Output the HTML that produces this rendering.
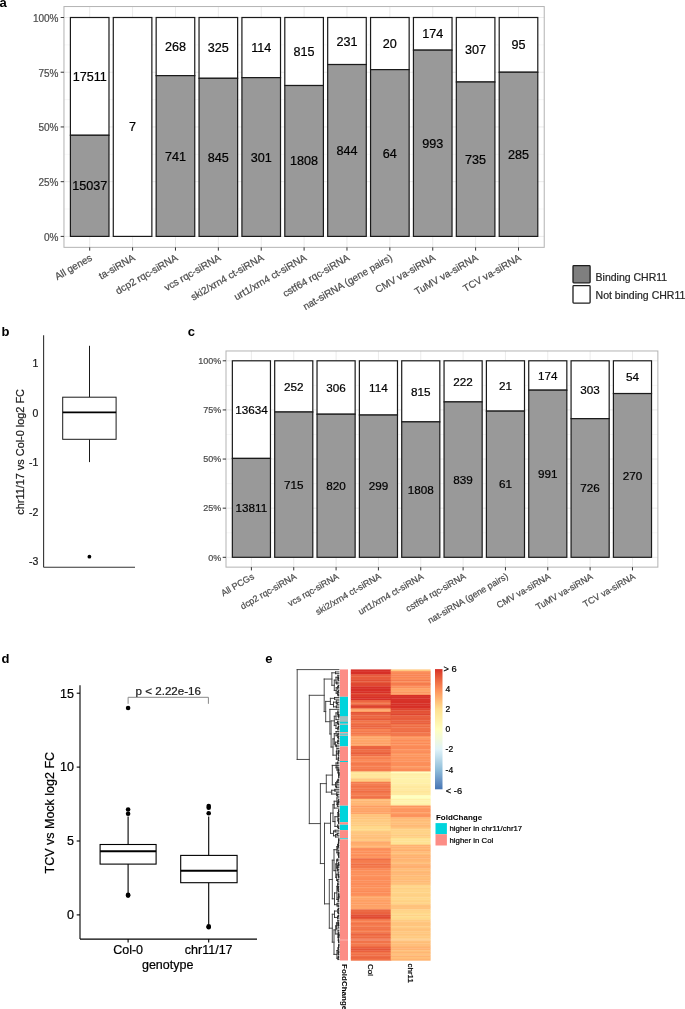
<!DOCTYPE html><html><head><meta charset="utf-8"><style>html,body{margin:0;padding:0;background:#fff;}svg{display:block;will-change:transform}text{font-family:"Liberation Sans", sans-serif;}</style></head><body>
<svg width="685" height="1009" viewBox="0 0 685 1009">
<rect x="0" y="0" width="685" height="1009" fill="#fff"/>
<line x1="63.97" x2="544.23" y1="209.04" y2="209.04" stroke="#f2f2f2" stroke-width="0.6"/>
<line x1="63.97" x2="544.23" y1="154.31" y2="154.31" stroke="#f2f2f2" stroke-width="0.6"/>
<line x1="63.97" x2="544.23" y1="99.59" y2="99.59" stroke="#f2f2f2" stroke-width="0.6"/>
<line x1="63.97" x2="544.23" y1="44.86" y2="44.86" stroke="#f2f2f2" stroke-width="0.6"/>
<line x1="63.97" x2="544.23" y1="236.4" y2="236.4" stroke="#ebebeb" stroke-width="1"/>
<line x1="63.97" x2="544.23" y1="181.68" y2="181.68" stroke="#ebebeb" stroke-width="1"/>
<line x1="63.97" x2="544.23" y1="126.95" y2="126.95" stroke="#ebebeb" stroke-width="1"/>
<line x1="63.97" x2="544.23" y1="72.22" y2="72.22" stroke="#ebebeb" stroke-width="1"/>
<line x1="63.97" x2="544.23" y1="17.5" y2="17.5" stroke="#ebebeb" stroke-width="1"/>
<line x1="89.7" x2="89.7" y1="6.55" y2="247.34" stroke="#ebebeb" stroke-width="1"/>
<line x1="132.58" x2="132.58" y1="6.55" y2="247.34" stroke="#ebebeb" stroke-width="1"/>
<line x1="175.46" x2="175.46" y1="6.55" y2="247.34" stroke="#ebebeb" stroke-width="1"/>
<line x1="218.34" x2="218.34" y1="6.55" y2="247.34" stroke="#ebebeb" stroke-width="1"/>
<line x1="261.22" x2="261.22" y1="6.55" y2="247.34" stroke="#ebebeb" stroke-width="1"/>
<line x1="304.1" x2="304.1" y1="6.55" y2="247.34" stroke="#ebebeb" stroke-width="1"/>
<line x1="346.98" x2="346.98" y1="6.55" y2="247.34" stroke="#ebebeb" stroke-width="1"/>
<line x1="389.86" x2="389.86" y1="6.55" y2="247.34" stroke="#ebebeb" stroke-width="1"/>
<line x1="432.74" x2="432.74" y1="6.55" y2="247.34" stroke="#ebebeb" stroke-width="1"/>
<line x1="475.62" x2="475.62" y1="6.55" y2="247.34" stroke="#ebebeb" stroke-width="1"/>
<line x1="518.5" x2="518.5" y1="6.55" y2="247.34" stroke="#ebebeb" stroke-width="1"/>
<rect x="70.4" y="17.5" width="38.59" height="117.77" fill="#fff" stroke="#1a1a1a" stroke-width="1.2"/>
<rect x="70.4" y="135.27" width="38.59" height="101.13" fill="#999999" stroke="#1a1a1a" stroke-width="1.2"/>
<text x="89.7" y="190.35" font-size="12.6" text-anchor="middle" fill="#000" stroke="#000" stroke-width="0.22">15037</text>
<text x="89.7" y="80.9" font-size="12.6" text-anchor="middle" fill="#000" stroke="#000" stroke-width="0.22">17511</text>
<rect x="113.28" y="17.5" width="38.59" height="218.9" fill="#fff" stroke="#1a1a1a" stroke-width="1.2"/>
<text x="132.58" y="131.46" font-size="12.6" text-anchor="middle" fill="#000" stroke="#000" stroke-width="0.22">7</text>
<rect x="156.16" y="17.5" width="38.59" height="58.14" fill="#fff" stroke="#1a1a1a" stroke-width="1.2"/>
<rect x="156.16" y="75.64" width="38.59" height="160.76" fill="#999999" stroke="#1a1a1a" stroke-width="1.2"/>
<text x="175.46" y="160.53" font-size="12.6" text-anchor="middle" fill="#000" stroke="#000" stroke-width="0.22">741</text>
<text x="175.46" y="51.08" font-size="12.6" text-anchor="middle" fill="#000" stroke="#000" stroke-width="0.22">268</text>
<rect x="199.04" y="17.5" width="38.59" height="60.81" fill="#fff" stroke="#1a1a1a" stroke-width="1.2"/>
<rect x="199.04" y="78.31" width="38.59" height="158.09" fill="#999999" stroke="#1a1a1a" stroke-width="1.2"/>
<text x="218.34" y="161.86" font-size="12.6" text-anchor="middle" fill="#000" stroke="#000" stroke-width="0.22">845</text>
<text x="218.34" y="52.41" font-size="12.6" text-anchor="middle" fill="#000" stroke="#000" stroke-width="0.22">325</text>
<rect x="241.92" y="17.5" width="38.59" height="60.13" fill="#fff" stroke="#1a1a1a" stroke-width="1.2"/>
<rect x="241.92" y="77.63" width="38.59" height="158.77" fill="#999999" stroke="#1a1a1a" stroke-width="1.2"/>
<text x="261.22" y="161.53" font-size="12.6" text-anchor="middle" fill="#000" stroke="#000" stroke-width="0.22">301</text>
<text x="261.22" y="52.08" font-size="12.6" text-anchor="middle" fill="#000" stroke="#000" stroke-width="0.22">114</text>
<rect x="284.8" y="17.5" width="38.59" height="68.02" fill="#fff" stroke="#1a1a1a" stroke-width="1.2"/>
<rect x="284.8" y="85.52" width="38.59" height="150.88" fill="#999999" stroke="#1a1a1a" stroke-width="1.2"/>
<text x="304.1" y="165.47" font-size="12.6" text-anchor="middle" fill="#000" stroke="#000" stroke-width="0.22">1808</text>
<text x="304.1" y="56.02" font-size="12.6" text-anchor="middle" fill="#000" stroke="#000" stroke-width="0.22">815</text>
<rect x="327.68" y="17.5" width="38.59" height="47.04" fill="#fff" stroke="#1a1a1a" stroke-width="1.2"/>
<rect x="327.68" y="64.54" width="38.59" height="171.86" fill="#999999" stroke="#1a1a1a" stroke-width="1.2"/>
<text x="346.98" y="154.98" font-size="12.6" text-anchor="middle" fill="#000" stroke="#000" stroke-width="0.22">844</text>
<text x="346.98" y="45.53" font-size="12.6" text-anchor="middle" fill="#000" stroke="#000" stroke-width="0.22">231</text>
<rect x="370.56" y="17.5" width="38.59" height="52.12" fill="#fff" stroke="#1a1a1a" stroke-width="1.2"/>
<rect x="370.56" y="69.62" width="38.59" height="166.78" fill="#999999" stroke="#1a1a1a" stroke-width="1.2"/>
<text x="389.86" y="157.52" font-size="12.6" text-anchor="middle" fill="#000" stroke="#000" stroke-width="0.22">64</text>
<text x="389.86" y="48.07" font-size="12.6" text-anchor="middle" fill="#000" stroke="#000" stroke-width="0.22">20</text>
<rect x="413.44" y="17.5" width="38.59" height="32.64" fill="#fff" stroke="#1a1a1a" stroke-width="1.2"/>
<rect x="413.44" y="50.14" width="38.59" height="186.26" fill="#999999" stroke="#1a1a1a" stroke-width="1.2"/>
<text x="432.74" y="147.78" font-size="12.6" text-anchor="middle" fill="#000" stroke="#000" stroke-width="0.22">993</text>
<text x="432.74" y="38.33" font-size="12.6" text-anchor="middle" fill="#000" stroke="#000" stroke-width="0.22">174</text>
<rect x="456.32" y="17.5" width="38.59" height="64.49" fill="#fff" stroke="#1a1a1a" stroke-width="1.2"/>
<rect x="456.32" y="81.99" width="38.59" height="154.41" fill="#999999" stroke="#1a1a1a" stroke-width="1.2"/>
<text x="475.62" y="163.71" font-size="12.6" text-anchor="middle" fill="#000" stroke="#000" stroke-width="0.22">735</text>
<text x="475.62" y="54.26" font-size="12.6" text-anchor="middle" fill="#000" stroke="#000" stroke-width="0.22">307</text>
<rect x="499.2" y="17.5" width="38.59" height="54.72" fill="#fff" stroke="#1a1a1a" stroke-width="1.2"/>
<rect x="499.2" y="72.22" width="38.59" height="164.18" fill="#999999" stroke="#1a1a1a" stroke-width="1.2"/>
<text x="518.5" y="158.82" font-size="12.6" text-anchor="middle" fill="#000" stroke="#000" stroke-width="0.22">285</text>
<text x="518.5" y="49.37" font-size="12.6" text-anchor="middle" fill="#000" stroke="#000" stroke-width="0.22">95</text>
<rect x="63.97" y="6.55" width="480.26" height="240.79" fill="none" stroke="#b3b3b3" stroke-width="1"/>
<line x1="60.67" x2="63.97" y1="236.4" y2="236.4" stroke="#333" stroke-width="1"/>
<text x="58.47" y="240.68" font-size="10" text-anchor="end" fill="#4d4d4d" stroke="#4d4d4d" stroke-width="0.22">0%</text>
<line x1="60.67" x2="63.97" y1="181.68" y2="181.68" stroke="#333" stroke-width="1"/>
<text x="58.47" y="185.96" font-size="10" text-anchor="end" fill="#4d4d4d" stroke="#4d4d4d" stroke-width="0.22">25%</text>
<line x1="60.67" x2="63.97" y1="126.95" y2="126.95" stroke="#333" stroke-width="1"/>
<text x="58.47" y="131.23" font-size="10" text-anchor="end" fill="#4d4d4d" stroke="#4d4d4d" stroke-width="0.22">50%</text>
<line x1="60.67" x2="63.97" y1="72.22" y2="72.22" stroke="#333" stroke-width="1"/>
<text x="58.47" y="76.5" font-size="10" text-anchor="end" fill="#4d4d4d" stroke="#4d4d4d" stroke-width="0.22">75%</text>
<line x1="60.67" x2="63.97" y1="17.5" y2="17.5" stroke="#333" stroke-width="1"/>
<text x="58.47" y="21.78" font-size="10" text-anchor="end" fill="#4d4d4d" stroke="#4d4d4d" stroke-width="0.22">100%</text>
<line x1="89.7" x2="89.7" y1="247.34" y2="250.65" stroke="#333" stroke-width="1"/>
<text transform="translate(92.9,259.64) rotate(-30)" font-size="10" text-anchor="end" fill="#4d4d4d" stroke="#4d4d4d" stroke-width="0.22">All genes</text>
<line x1="132.58" x2="132.58" y1="247.34" y2="250.65" stroke="#333" stroke-width="1"/>
<text transform="translate(135.78,259.64) rotate(-30)" font-size="10" text-anchor="end" fill="#4d4d4d" stroke="#4d4d4d" stroke-width="0.22">ta-siRNA</text>
<line x1="175.46" x2="175.46" y1="247.34" y2="250.65" stroke="#333" stroke-width="1"/>
<text transform="translate(178.66,259.64) rotate(-30)" font-size="10" text-anchor="end" fill="#4d4d4d" stroke="#4d4d4d" stroke-width="0.22">dcp2 rqc-siRNA</text>
<line x1="218.34" x2="218.34" y1="247.34" y2="250.65" stroke="#333" stroke-width="1"/>
<text transform="translate(221.54,259.64) rotate(-30)" font-size="10" text-anchor="end" fill="#4d4d4d" stroke="#4d4d4d" stroke-width="0.22">vcs rqc-siRNA</text>
<line x1="261.22" x2="261.22" y1="247.34" y2="250.65" stroke="#333" stroke-width="1"/>
<text transform="translate(264.42,259.64) rotate(-30)" font-size="10" text-anchor="end" fill="#4d4d4d" stroke="#4d4d4d" stroke-width="0.22">ski2/xrn4 ct-siRNA</text>
<line x1="304.1" x2="304.1" y1="247.34" y2="250.65" stroke="#333" stroke-width="1"/>
<text transform="translate(307.3,259.64) rotate(-30)" font-size="10" text-anchor="end" fill="#4d4d4d" stroke="#4d4d4d" stroke-width="0.22">urt1/xrn4 ct-siRNA</text>
<line x1="346.98" x2="346.98" y1="247.34" y2="250.65" stroke="#333" stroke-width="1"/>
<text transform="translate(350.18,259.64) rotate(-30)" font-size="10" text-anchor="end" fill="#4d4d4d" stroke="#4d4d4d" stroke-width="0.22">cstf64 rqc-siRNA</text>
<line x1="389.86" x2="389.86" y1="247.34" y2="250.65" stroke="#333" stroke-width="1"/>
<text transform="translate(393.06,259.64) rotate(-30)" font-size="10" text-anchor="end" fill="#4d4d4d" stroke="#4d4d4d" stroke-width="0.22">nat-siRNA (gene pairs)</text>
<line x1="432.74" x2="432.74" y1="247.34" y2="250.65" stroke="#333" stroke-width="1"/>
<text transform="translate(435.94,259.64) rotate(-30)" font-size="10" text-anchor="end" fill="#4d4d4d" stroke="#4d4d4d" stroke-width="0.22">CMV va-siRNA</text>
<line x1="475.62" x2="475.62" y1="247.34" y2="250.65" stroke="#333" stroke-width="1"/>
<text transform="translate(478.82,259.64) rotate(-30)" font-size="10" text-anchor="end" fill="#4d4d4d" stroke="#4d4d4d" stroke-width="0.22">TuMV va-siRNA</text>
<line x1="518.5" x2="518.5" y1="247.34" y2="250.65" stroke="#333" stroke-width="1"/>
<text transform="translate(521.7,259.64) rotate(-30)" font-size="10" text-anchor="end" fill="#4d4d4d" stroke="#4d4d4d" stroke-width="0.22">TCV va-siRNA</text>
<line x1="226" x2="657.86" y1="532.74" y2="532.74" stroke="#f2f2f2" stroke-width="0.6"/>
<line x1="226" x2="657.86" y1="483.61" y2="483.61" stroke="#f2f2f2" stroke-width="0.6"/>
<line x1="226" x2="657.86" y1="434.49" y2="434.49" stroke="#f2f2f2" stroke-width="0.6"/>
<line x1="226" x2="657.86" y1="385.36" y2="385.36" stroke="#f2f2f2" stroke-width="0.6"/>
<line x1="226" x2="657.86" y1="557.3" y2="557.3" stroke="#ebebeb" stroke-width="1"/>
<line x1="226" x2="657.86" y1="508.17" y2="508.17" stroke="#ebebeb" stroke-width="1"/>
<line x1="226" x2="657.86" y1="459.05" y2="459.05" stroke="#ebebeb" stroke-width="1"/>
<line x1="226" x2="657.86" y1="409.93" y2="409.93" stroke="#ebebeb" stroke-width="1"/>
<line x1="226" x2="657.86" y1="360.8" y2="360.8" stroke="#ebebeb" stroke-width="1"/>
<line x1="251.4" x2="251.4" y1="350.98" y2="567.12" stroke="#ebebeb" stroke-width="1"/>
<line x1="293.74" x2="293.74" y1="350.98" y2="567.12" stroke="#ebebeb" stroke-width="1"/>
<line x1="336.08" x2="336.08" y1="350.98" y2="567.12" stroke="#ebebeb" stroke-width="1"/>
<line x1="378.42" x2="378.42" y1="350.98" y2="567.12" stroke="#ebebeb" stroke-width="1"/>
<line x1="420.76" x2="420.76" y1="350.98" y2="567.12" stroke="#ebebeb" stroke-width="1"/>
<line x1="463.1" x2="463.1" y1="350.98" y2="567.12" stroke="#ebebeb" stroke-width="1"/>
<line x1="505.44" x2="505.44" y1="350.98" y2="567.12" stroke="#ebebeb" stroke-width="1"/>
<line x1="547.78" x2="547.78" y1="350.98" y2="567.12" stroke="#ebebeb" stroke-width="1"/>
<line x1="590.12" x2="590.12" y1="350.98" y2="567.12" stroke="#ebebeb" stroke-width="1"/>
<line x1="632.46" x2="632.46" y1="350.98" y2="567.12" stroke="#ebebeb" stroke-width="1"/>
<rect x="232.35" y="360.8" width="38.11" height="97.62" fill="#fff" stroke="#1a1a1a" stroke-width="1.2"/>
<rect x="232.35" y="458.42" width="38.11" height="98.88" fill="#999999" stroke="#1a1a1a" stroke-width="1.2"/>
<text x="251.4" y="512.05" font-size="11.7" text-anchor="middle" fill="#000" stroke="#000" stroke-width="0.22">13811</text>
<text x="251.4" y="413.8" font-size="11.7" text-anchor="middle" fill="#000" stroke="#000" stroke-width="0.22">13634</text>
<rect x="274.69" y="360.8" width="38.11" height="51.21" fill="#fff" stroke="#1a1a1a" stroke-width="1.2"/>
<rect x="274.69" y="412.01" width="38.11" height="145.29" fill="#999999" stroke="#1a1a1a" stroke-width="1.2"/>
<text x="293.74" y="488.84" font-size="11.7" text-anchor="middle" fill="#000" stroke="#000" stroke-width="0.22">715</text>
<text x="293.74" y="390.59" font-size="11.7" text-anchor="middle" fill="#000" stroke="#000" stroke-width="0.22">252</text>
<rect x="317.03" y="360.8" width="38.11" height="53.4" fill="#fff" stroke="#1a1a1a" stroke-width="1.2"/>
<rect x="317.03" y="414.2" width="38.11" height="143.1" fill="#999999" stroke="#1a1a1a" stroke-width="1.2"/>
<text x="336.08" y="489.94" font-size="11.7" text-anchor="middle" fill="#000" stroke="#000" stroke-width="0.22">820</text>
<text x="336.08" y="391.69" font-size="11.7" text-anchor="middle" fill="#000" stroke="#000" stroke-width="0.22">306</text>
<rect x="359.37" y="360.8" width="38.11" height="54.24" fill="#fff" stroke="#1a1a1a" stroke-width="1.2"/>
<rect x="359.37" y="415.04" width="38.11" height="142.26" fill="#999999" stroke="#1a1a1a" stroke-width="1.2"/>
<text x="378.42" y="490.36" font-size="11.7" text-anchor="middle" fill="#000" stroke="#000" stroke-width="0.22">299</text>
<text x="378.42" y="392.11" font-size="11.7" text-anchor="middle" fill="#000" stroke="#000" stroke-width="0.22">114</text>
<rect x="401.71" y="360.8" width="38.11" height="61.06" fill="#fff" stroke="#1a1a1a" stroke-width="1.2"/>
<rect x="401.71" y="421.86" width="38.11" height="135.44" fill="#999999" stroke="#1a1a1a" stroke-width="1.2"/>
<text x="420.76" y="493.77" font-size="11.7" text-anchor="middle" fill="#000" stroke="#000" stroke-width="0.22">1808</text>
<text x="420.76" y="395.52" font-size="11.7" text-anchor="middle" fill="#000" stroke="#000" stroke-width="0.22">815</text>
<rect x="444.05" y="360.8" width="38.11" height="41.11" fill="#fff" stroke="#1a1a1a" stroke-width="1.2"/>
<rect x="444.05" y="401.91" width="38.11" height="155.39" fill="#999999" stroke="#1a1a1a" stroke-width="1.2"/>
<text x="463.1" y="483.8" font-size="11.7" text-anchor="middle" fill="#000" stroke="#000" stroke-width="0.22">839</text>
<text x="463.1" y="385.55" font-size="11.7" text-anchor="middle" fill="#000" stroke="#000" stroke-width="0.22">222</text>
<rect x="486.39" y="360.8" width="38.11" height="50.32" fill="#fff" stroke="#1a1a1a" stroke-width="1.2"/>
<rect x="486.39" y="411.12" width="38.11" height="146.18" fill="#999999" stroke="#1a1a1a" stroke-width="1.2"/>
<text x="505.44" y="488.4" font-size="11.7" text-anchor="middle" fill="#000" stroke="#000" stroke-width="0.22">61</text>
<text x="505.44" y="390.15" font-size="11.7" text-anchor="middle" fill="#000" stroke="#000" stroke-width="0.22">21</text>
<rect x="528.73" y="360.8" width="38.11" height="29.35" fill="#fff" stroke="#1a1a1a" stroke-width="1.2"/>
<rect x="528.73" y="390.15" width="38.11" height="167.15" fill="#999999" stroke="#1a1a1a" stroke-width="1.2"/>
<text x="547.78" y="477.91" font-size="11.7" text-anchor="middle" fill="#000" stroke="#000" stroke-width="0.22">991</text>
<text x="547.78" y="379.66" font-size="11.7" text-anchor="middle" fill="#000" stroke="#000" stroke-width="0.22">174</text>
<rect x="571.07" y="360.8" width="38.11" height="57.86" fill="#fff" stroke="#1a1a1a" stroke-width="1.2"/>
<rect x="571.07" y="418.66" width="38.11" height="138.64" fill="#999999" stroke="#1a1a1a" stroke-width="1.2"/>
<text x="590.12" y="492.17" font-size="11.7" text-anchor="middle" fill="#000" stroke="#000" stroke-width="0.22">726</text>
<text x="590.12" y="393.92" font-size="11.7" text-anchor="middle" fill="#000" stroke="#000" stroke-width="0.22">303</text>
<rect x="613.41" y="360.8" width="38.11" height="32.75" fill="#fff" stroke="#1a1a1a" stroke-width="1.2"/>
<rect x="613.41" y="393.55" width="38.11" height="163.75" fill="#999999" stroke="#1a1a1a" stroke-width="1.2"/>
<text x="632.46" y="479.61" font-size="11.7" text-anchor="middle" fill="#000" stroke="#000" stroke-width="0.22">270</text>
<text x="632.46" y="381.36" font-size="11.7" text-anchor="middle" fill="#000" stroke="#000" stroke-width="0.22">54</text>
<rect x="226" y="350.98" width="431.87" height="216.15" fill="none" stroke="#b3b3b3" stroke-width="1"/>
<line x1="222.7" x2="226" y1="557.3" y2="557.3" stroke="#333" stroke-width="1"/>
<text x="221.2" y="560.52" font-size="9" text-anchor="end" fill="#4d4d4d" stroke="#4d4d4d" stroke-width="0.22">0%</text>
<line x1="222.7" x2="226" y1="508.17" y2="508.17" stroke="#333" stroke-width="1"/>
<text x="221.2" y="511.4" font-size="9" text-anchor="end" fill="#4d4d4d" stroke="#4d4d4d" stroke-width="0.22">25%</text>
<line x1="222.7" x2="226" y1="459.05" y2="459.05" stroke="#333" stroke-width="1"/>
<text x="221.2" y="462.27" font-size="9" text-anchor="end" fill="#4d4d4d" stroke="#4d4d4d" stroke-width="0.22">50%</text>
<line x1="222.7" x2="226" y1="409.93" y2="409.93" stroke="#333" stroke-width="1"/>
<text x="221.2" y="413.15" font-size="9" text-anchor="end" fill="#4d4d4d" stroke="#4d4d4d" stroke-width="0.22">75%</text>
<line x1="222.7" x2="226" y1="360.8" y2="360.8" stroke="#333" stroke-width="1"/>
<text x="221.2" y="364.02" font-size="9" text-anchor="end" fill="#4d4d4d" stroke="#4d4d4d" stroke-width="0.22">100%</text>
<line x1="251.4" x2="251.4" y1="567.12" y2="570.42" stroke="#333" stroke-width="1"/>
<text transform="translate(254.8,578.12) rotate(-30)" font-size="9" text-anchor="end" fill="#4d4d4d" stroke="#4d4d4d" stroke-width="0.22">All PCGs</text>
<line x1="293.74" x2="293.74" y1="567.12" y2="570.42" stroke="#333" stroke-width="1"/>
<text transform="translate(297.14,578.12) rotate(-30)" font-size="9" text-anchor="end" fill="#4d4d4d" stroke="#4d4d4d" stroke-width="0.22">dcp2 rqc-siRNA</text>
<line x1="336.08" x2="336.08" y1="567.12" y2="570.42" stroke="#333" stroke-width="1"/>
<text transform="translate(339.48,578.12) rotate(-30)" font-size="9" text-anchor="end" fill="#4d4d4d" stroke="#4d4d4d" stroke-width="0.22">vcs rqc-siRNA</text>
<line x1="378.42" x2="378.42" y1="567.12" y2="570.42" stroke="#333" stroke-width="1"/>
<text transform="translate(381.82,578.12) rotate(-30)" font-size="9" text-anchor="end" fill="#4d4d4d" stroke="#4d4d4d" stroke-width="0.22">ski2/xrn4 ct-siRNA</text>
<line x1="420.76" x2="420.76" y1="567.12" y2="570.42" stroke="#333" stroke-width="1"/>
<text transform="translate(424.16,578.12) rotate(-30)" font-size="9" text-anchor="end" fill="#4d4d4d" stroke="#4d4d4d" stroke-width="0.22">urt1/xrn4 ct-siRNA</text>
<line x1="463.1" x2="463.1" y1="567.12" y2="570.42" stroke="#333" stroke-width="1"/>
<text transform="translate(466.5,578.12) rotate(-30)" font-size="9" text-anchor="end" fill="#4d4d4d" stroke="#4d4d4d" stroke-width="0.22">cstf64 rqc-siRNA</text>
<line x1="505.44" x2="505.44" y1="567.12" y2="570.42" stroke="#333" stroke-width="1"/>
<text transform="translate(508.84,578.12) rotate(-30)" font-size="9" text-anchor="end" fill="#4d4d4d" stroke="#4d4d4d" stroke-width="0.22">nat-siRNA (gene pairs)</text>
<line x1="547.78" x2="547.78" y1="567.12" y2="570.42" stroke="#333" stroke-width="1"/>
<text transform="translate(551.18,578.12) rotate(-30)" font-size="9" text-anchor="end" fill="#4d4d4d" stroke="#4d4d4d" stroke-width="0.22">CMV va-siRNA</text>
<line x1="590.12" x2="590.12" y1="567.12" y2="570.42" stroke="#333" stroke-width="1"/>
<text transform="translate(593.52,578.12) rotate(-30)" font-size="9" text-anchor="end" fill="#4d4d4d" stroke="#4d4d4d" stroke-width="0.22">TuMV va-siRNA</text>
<line x1="632.46" x2="632.46" y1="567.12" y2="570.42" stroke="#333" stroke-width="1"/>
<text transform="translate(635.86,578.12) rotate(-30)" font-size="9" text-anchor="end" fill="#4d4d4d" stroke="#4d4d4d" stroke-width="0.22">TCV va-siRNA</text>
<rect x="573" y="265.6" width="17.1" height="17.2" rx="0.8" fill="#7f7f7f" stroke="#1e1e1e" stroke-width="1.3"/>
<rect x="573" y="285.7" width="17.1" height="17.4" rx="0.8" fill="#fff" stroke="#1e1e1e" stroke-width="1.3"/>
<text x="595.6" y="280.7" font-size="10.5" fill="#262626" stroke="#262626" stroke-width="0.22">Binding CHR11</text>
<text x="595.6" y="299" font-size="10.5" fill="#262626" stroke="#262626" stroke-width="0.22">Not binding CHR11</text>
<text x="-0.6" y="6.8" font-size="13" font-weight="bold" fill="#000">a</text>
<text x="1.6" y="336" font-size="13" font-weight="bold" fill="#000">b</text>
<text x="187.7" y="336.2" font-size="13" font-weight="bold" fill="#000">c</text>
<text x="1.6" y="662.8" font-size="13" font-weight="bold" fill="#000">d</text>
<text x="265.3" y="662.8" font-size="13" font-weight="bold" fill="#000">e</text>
<line x1="43.6" x2="43.6" y1="335.3" y2="567.3" stroke="#333" stroke-width="1.1"/>
<line x1="43.6" x2="135" y1="567.3" y2="567.3" stroke="#333" stroke-width="1.1"/>
<text x="38.3" y="367.22" font-size="10.5" text-anchor="end" fill="#1a1a1a" stroke="#1a1a1a" stroke-width="0.22">1</text>
<text x="38.3" y="416.65" font-size="10.5" text-anchor="end" fill="#1a1a1a" stroke="#1a1a1a" stroke-width="0.22">0</text>
<text x="38.3" y="466.08" font-size="10.5" text-anchor="end" fill="#1a1a1a" stroke="#1a1a1a" stroke-width="0.22">-1</text>
<text x="38.3" y="515.51" font-size="10.5" text-anchor="end" fill="#1a1a1a" stroke="#1a1a1a" stroke-width="0.22">-2</text>
<text x="38.3" y="564.94" font-size="10.5" text-anchor="end" fill="#1a1a1a" stroke="#1a1a1a" stroke-width="0.22">-3</text>
<line x1="89.5" x2="89.5" y1="345.8" y2="397.2" stroke="#1a1a1a" stroke-width="1"/>
<line x1="89.5" x2="89.5" y1="439.3" y2="462.1" stroke="#1a1a1a" stroke-width="1"/>
<rect x="62.7" y="397.2" width="53.4" height="42.1" fill="#fff" stroke="#1a1a1a" stroke-width="1"/>
<line x1="62.7" x2="116.1" y1="412.3" y2="412.3" stroke="#000" stroke-width="1.8"/>
<circle cx="89.4" cy="556.7" r="1.9" fill="#000"/>
<text transform="translate(24.2,451.9) rotate(-90)" font-size="10.9" text-anchor="middle" fill="#1a1a1a" stroke="#1a1a1a" stroke-width="0.22">chr11/17 vs Col-0 log2 FC</text>
<line x1="80" x2="80" y1="685.2" y2="939.1" stroke="#000" stroke-width="1.1"/>
<line x1="80" x2="257" y1="939.1" y2="939.1" stroke="#000" stroke-width="1.1"/>
<line x1="76.7" x2="80" y1="914.9" y2="914.9" stroke="#000" stroke-width="1.1"/>
<text x="74" y="919.2" font-size="12.5" text-anchor="end" fill="#000" stroke="#000" stroke-width="0.22">0</text>
<line x1="76.7" x2="80" y1="841" y2="841" stroke="#000" stroke-width="1.1"/>
<text x="74" y="845.3" font-size="12.5" text-anchor="end" fill="#000" stroke="#000" stroke-width="0.22">5</text>
<line x1="76.7" x2="80" y1="767.1" y2="767.1" stroke="#000" stroke-width="1.1"/>
<text x="74" y="771.4" font-size="12.5" text-anchor="end" fill="#000" stroke="#000" stroke-width="0.22">10</text>
<line x1="76.7" x2="80" y1="693.2" y2="693.2" stroke="#000" stroke-width="1.1"/>
<text x="74" y="697.5" font-size="12.5" text-anchor="end" fill="#000" stroke="#000" stroke-width="0.22">15</text>
<line x1="128.1" x2="128.1" y1="939.1" y2="942.4" stroke="#000" stroke-width="1.1"/>
<line x1="208.7" x2="208.7" y1="939.1" y2="942.4" stroke="#000" stroke-width="1.1"/>
<line x1="128.1" x2="128.1" y1="816.5" y2="844.5" stroke="#000" stroke-width="1.1"/>
<line x1="128.1" x2="128.1" y1="864.1" y2="894" stroke="#000" stroke-width="1.1"/>
<rect x="100.1" y="844.5" width="56" height="19.6" fill="#fff" stroke="#000" stroke-width="1.1"/>
<line x1="100.1" x2="156.1" y1="851.2" y2="851.2" stroke="#000" stroke-width="2"/>
<circle cx="128.1" cy="708" r="2.3" fill="#000"/>
<circle cx="128.1" cy="809.5" r="2.3" fill="#000"/>
<circle cx="128.1" cy="813.7" r="2.3" fill="#000"/>
<circle cx="128.1" cy="894.8" r="2.3" fill="#000"/>
<circle cx="128.1" cy="895.6" r="2.3" fill="#000"/>
<line x1="208.7" x2="208.7" y1="816.5" y2="855.4" stroke="#000" stroke-width="1.1"/>
<line x1="208.7" x2="208.7" y1="882.7" y2="924.4" stroke="#000" stroke-width="1.1"/>
<rect x="180.7" y="855.4" width="56.4" height="27.3" fill="#fff" stroke="#000" stroke-width="1.1"/>
<line x1="180.7" x2="237.1" y1="870.8" y2="870.8" stroke="#000" stroke-width="2"/>
<circle cx="208.7" cy="806" r="2.3" fill="#000"/>
<circle cx="208.7" cy="807.7" r="2.3" fill="#000"/>
<circle cx="208.7" cy="813.3" r="2.3" fill="#000"/>
<circle cx="208.7" cy="926.3" r="2.3" fill="#000"/>
<circle cx="208.7" cy="927.2" r="2.3" fill="#000"/>
<polyline points="128.1,703.8 128.1,697.3 208.4,697.3 208.4,703.8" fill="none" stroke="#888" stroke-width="1"/>
<text x="168.3" y="694.8" font-size="11.6" text-anchor="middle" fill="#1a1a1a" stroke="#1a1a1a" stroke-width="0.22">p &lt; 2.22e-16</text>
<text x="128.1" y="954.3" font-size="12.5" text-anchor="middle" fill="#000" stroke="#000" stroke-width="0.22">Col-0</text>
<text x="208.7" y="954.3" font-size="12.5" text-anchor="middle" fill="#000" stroke="#000" stroke-width="0.22">chr11/17</text>
<text x="167.7" y="968.8" font-size="12.5" text-anchor="middle" fill="#000" stroke="#000" stroke-width="0.22">genotype</text>
<text transform="translate(54.0,812.7) rotate(-90)" font-size="12.5" text-anchor="middle" fill="#000" stroke="#000" stroke-width="0.22">TCV vs Mock log2 FC</text>
<g shape-rendering="auto">
<rect x="350.8" y="669.4" width="40.5" height="2" fill="#d73027"/>
<rect x="350.8" y="671.1" width="40.5" height="2" fill="#d73027"/>
<rect x="350.8" y="672.8" width="40.5" height="2" fill="#d73027"/>
<rect x="350.8" y="674.51" width="40.5" height="2" fill="#e75c3b"/>
<rect x="350.8" y="676.21" width="40.5" height="2" fill="#e85c3b"/>
<rect x="350.8" y="677.91" width="40.5" height="2" fill="#e75b3b"/>
<rect x="350.8" y="679.61" width="40.5" height="2" fill="#e24f34"/>
<rect x="350.8" y="681.31" width="40.5" height="2" fill="#e6593a"/>
<rect x="350.8" y="683.01" width="40.5" height="2" fill="#df4731"/>
<rect x="350.8" y="684.72" width="40.5" height="2" fill="#e04931"/>
<rect x="350.8" y="686.42" width="40.5" height="2" fill="#d73027"/>
<rect x="350.8" y="688.12" width="40.5" height="2" fill="#d73027"/>
<rect x="350.8" y="689.82" width="40.5" height="2" fill="#d73027"/>
<rect x="350.8" y="691.52" width="40.5" height="2" fill="#d73027"/>
<rect x="350.8" y="693.22" width="40.5" height="2" fill="#de442f"/>
<rect x="350.8" y="694.93" width="40.5" height="2" fill="#da392a"/>
<rect x="350.8" y="696.63" width="40.5" height="2" fill="#d73027"/>
<rect x="350.8" y="698.33" width="40.5" height="2" fill="#d73027"/>
<rect x="350.8" y="700.03" width="40.5" height="2" fill="#ea623f"/>
<rect x="350.8" y="701.73" width="40.5" height="2" fill="#f2754a"/>
<rect x="350.8" y="703.44" width="40.5" height="2" fill="#ef6e46"/>
<rect x="350.8" y="705.14" width="40.5" height="2" fill="#dd422e"/>
<rect x="350.8" y="706.84" width="40.5" height="2" fill="#e04b32"/>
<rect x="350.8" y="708.54" width="40.5" height="2" fill="#fea669"/>
<rect x="350.8" y="710.24" width="40.5" height="2" fill="#fea467"/>
<rect x="350.8" y="711.94" width="40.5" height="2" fill="#e45537"/>
<rect x="350.8" y="713.65" width="40.5" height="2" fill="#e9603e"/>
<rect x="350.8" y="715.35" width="40.5" height="2" fill="#eb6641"/>
<rect x="350.8" y="717.05" width="40.5" height="2" fill="#ec6842"/>
<rect x="350.8" y="718.75" width="40.5" height="2" fill="#e6593a"/>
<rect x="350.8" y="720.45" width="40.5" height="2" fill="#f17449"/>
<rect x="350.8" y="722.15" width="40.5" height="2" fill="#f2764a"/>
<rect x="350.8" y="723.86" width="40.5" height="2" fill="#ed6a43"/>
<rect x="350.8" y="725.56" width="40.5" height="2" fill="#eb6540"/>
<rect x="350.8" y="727.26" width="40.5" height="2" fill="#ee6c45"/>
<rect x="350.8" y="728.96" width="40.5" height="2" fill="#f98554"/>
<rect x="350.8" y="730.66" width="40.5" height="2" fill="#f47a4d"/>
<rect x="350.8" y="732.36" width="40.5" height="2" fill="#f3774b"/>
<rect x="350.8" y="734.07" width="40.5" height="2" fill="#f67f50"/>
<rect x="350.8" y="735.77" width="40.5" height="2" fill="#fea769"/>
<rect x="350.8" y="737.47" width="40.5" height="2" fill="#fea568"/>
<rect x="350.8" y="739.17" width="40.5" height="2" fill="#fea769"/>
<rect x="350.8" y="740.87" width="40.5" height="2" fill="#fea568"/>
<rect x="350.8" y="742.58" width="40.5" height="2" fill="#fea065"/>
<rect x="350.8" y="744.28" width="40.5" height="2" fill="#fea669"/>
<rect x="350.8" y="745.98" width="40.5" height="2" fill="#ec6641"/>
<rect x="350.8" y="747.68" width="40.5" height="2" fill="#ea613e"/>
<rect x="350.8" y="749.38" width="40.5" height="2" fill="#ee6c44"/>
<rect x="350.8" y="751.08" width="40.5" height="2" fill="#ed6a43"/>
<rect x="350.8" y="752.79" width="40.5" height="2" fill="#e85e3d"/>
<rect x="350.8" y="754.49" width="40.5" height="2" fill="#ef6e45"/>
<rect x="350.8" y="756.19" width="40.5" height="2" fill="#f98654"/>
<rect x="350.8" y="757.89" width="40.5" height="2" fill="#f67f50"/>
<rect x="350.8" y="759.59" width="40.5" height="2" fill="#fb8a57"/>
<rect x="350.8" y="761.29" width="40.5" height="2" fill="#f88353"/>
<rect x="350.8" y="763" width="40.5" height="2" fill="#f3784c"/>
<rect x="350.8" y="764.7" width="40.5" height="2" fill="#f78051"/>
<rect x="350.8" y="766.4" width="40.5" height="2" fill="#f67d4f"/>
<rect x="350.8" y="768.1" width="40.5" height="2" fill="#f4794c"/>
<rect x="350.8" y="769.8" width="40.5" height="2" fill="#f47a4d"/>
<rect x="350.8" y="771.51" width="40.5" height="2" fill="#fee598"/>
<rect x="350.8" y="773.21" width="40.5" height="2" fill="#ffe69a"/>
<rect x="350.8" y="774.91" width="40.5" height="2" fill="#ffe79a"/>
<rect x="350.8" y="776.61" width="40.5" height="2" fill="#ffe699"/>
<rect x="350.8" y="778.31" width="40.5" height="2" fill="#ffca80"/>
<rect x="350.8" y="780.01" width="40.5" height="2" fill="#ffce83"/>
<rect x="350.8" y="781.72" width="40.5" height="2" fill="#f57c4e"/>
<rect x="350.8" y="783.42" width="40.5" height="2" fill="#f57d4f"/>
<rect x="350.8" y="785.12" width="40.5" height="2" fill="#f17248"/>
<rect x="350.8" y="786.82" width="40.5" height="2" fill="#f4794c"/>
<rect x="350.8" y="788.52" width="40.5" height="2" fill="#f3774b"/>
<rect x="350.8" y="790.22" width="40.5" height="2" fill="#ef6e45"/>
<rect x="350.8" y="791.93" width="40.5" height="2" fill="#f2754a"/>
<rect x="350.8" y="793.63" width="40.5" height="2" fill="#f57c4e"/>
<rect x="350.8" y="795.33" width="40.5" height="2" fill="#f3774b"/>
<rect x="350.8" y="797.03" width="40.5" height="2" fill="#ef6e46"/>
<rect x="350.8" y="798.73" width="40.5" height="2" fill="#ffc07a"/>
<rect x="350.8" y="800.44" width="40.5" height="2" fill="#ffb774"/>
<rect x="350.8" y="802.14" width="40.5" height="2" fill="#ffb773"/>
<rect x="350.8" y="803.84" width="40.5" height="2" fill="#ffb774"/>
<rect x="350.8" y="805.54" width="40.5" height="2" fill="#fe9e63"/>
<rect x="350.8" y="807.24" width="40.5" height="2" fill="#fea668"/>
<rect x="350.8" y="808.94" width="40.5" height="2" fill="#fea769"/>
<rect x="350.8" y="810.65" width="40.5" height="2" fill="#fea266"/>
<rect x="350.8" y="812.35" width="40.5" height="2" fill="#fea568"/>
<rect x="350.8" y="814.05" width="40.5" height="2" fill="#ffc47c"/>
<rect x="350.8" y="815.75" width="40.5" height="2" fill="#ffc37c"/>
<rect x="350.8" y="817.45" width="40.5" height="2" fill="#ffc47c"/>
<rect x="350.8" y="819.15" width="40.5" height="2" fill="#ffcb81"/>
<rect x="350.8" y="820.86" width="40.5" height="2" fill="#ffc980"/>
<rect x="350.8" y="822.56" width="40.5" height="2" fill="#ffcd83"/>
<rect x="350.8" y="824.26" width="40.5" height="2" fill="#ffcb81"/>
<rect x="350.8" y="825.96" width="40.5" height="2" fill="#ffd88a"/>
<rect x="350.8" y="827.66" width="40.5" height="2" fill="#ffd88a"/>
<rect x="350.8" y="829.36" width="40.5" height="2" fill="#ffd88a"/>
<rect x="350.8" y="831.07" width="40.5" height="2" fill="#ffc77f"/>
<rect x="350.8" y="832.77" width="40.5" height="2" fill="#ffc77f"/>
<rect x="350.8" y="834.47" width="40.5" height="2" fill="#ffc27b"/>
<rect x="350.8" y="836.17" width="40.5" height="2" fill="#ffbf79"/>
<rect x="350.8" y="837.87" width="40.5" height="2" fill="#ffc27b"/>
<rect x="350.8" y="839.58" width="40.5" height="2" fill="#ffc980"/>
<rect x="350.8" y="841.28" width="40.5" height="2" fill="#feaa6b"/>
<rect x="350.8" y="842.98" width="40.5" height="2" fill="#ffac6c"/>
<rect x="350.8" y="844.68" width="40.5" height="2" fill="#ffb371"/>
<rect x="350.8" y="846.38" width="40.5" height="2" fill="#ffb170"/>
<rect x="350.8" y="848.08" width="40.5" height="2" fill="#fb8b58"/>
<rect x="350.8" y="849.79" width="40.5" height="2" fill="#fd935c"/>
<rect x="350.8" y="851.49" width="40.5" height="2" fill="#fc8e5a"/>
<rect x="350.8" y="853.19" width="40.5" height="2" fill="#fd965f"/>
<rect x="350.8" y="854.89" width="40.5" height="2" fill="#fc8c58"/>
<rect x="350.8" y="856.59" width="40.5" height="2" fill="#fd965e"/>
<rect x="350.8" y="858.29" width="40.5" height="2" fill="#f06f46"/>
<rect x="350.8" y="860" width="40.5" height="2" fill="#f57b4e"/>
<rect x="350.8" y="861.7" width="40.5" height="2" fill="#f67f50"/>
<rect x="350.8" y="863.4" width="40.5" height="2" fill="#f07046"/>
<rect x="350.8" y="865.1" width="40.5" height="2" fill="#f3784c"/>
<rect x="350.8" y="866.8" width="40.5" height="2" fill="#f47a4d"/>
<rect x="350.8" y="868.51" width="40.5" height="2" fill="#fa8956"/>
<rect x="350.8" y="870.21" width="40.5" height="2" fill="#fc905b"/>
<rect x="350.8" y="871.91" width="40.5" height="2" fill="#fc905b"/>
<rect x="350.8" y="873.61" width="40.5" height="2" fill="#fc905b"/>
<rect x="350.8" y="875.31" width="40.5" height="2" fill="#fd925c"/>
<rect x="350.8" y="877.01" width="40.5" height="2" fill="#fc8f5a"/>
<rect x="350.8" y="878.72" width="40.5" height="2" fill="#fc8c58"/>
<rect x="350.8" y="880.42" width="40.5" height="2" fill="#fc8e5a"/>
<rect x="350.8" y="882.12" width="40.5" height="2" fill="#fc8d59"/>
<rect x="350.8" y="883.82" width="40.5" height="2" fill="#fc8d59"/>
<rect x="350.8" y="885.52" width="40.5" height="2" fill="#fc8e59"/>
<rect x="350.8" y="887.22" width="40.5" height="2" fill="#fd945d"/>
<rect x="350.8" y="888.93" width="40.5" height="2" fill="#fc915c"/>
<rect x="350.8" y="890.63" width="40.5" height="2" fill="#fb8a57"/>
<rect x="350.8" y="892.33" width="40.5" height="2" fill="#fc8f5a"/>
<rect x="350.8" y="894.03" width="40.5" height="2" fill="#fc8c59"/>
<rect x="350.8" y="895.73" width="40.5" height="2" fill="#fea769"/>
<rect x="350.8" y="897.44" width="40.5" height="2" fill="#fea668"/>
<rect x="350.8" y="899.14" width="40.5" height="2" fill="#fe9f64"/>
<rect x="350.8" y="900.84" width="40.5" height="2" fill="#fea266"/>
<rect x="350.8" y="902.54" width="40.5" height="2" fill="#fe9d63"/>
<rect x="350.8" y="904.24" width="40.5" height="2" fill="#fea165"/>
<rect x="350.8" y="905.94" width="40.5" height="2" fill="#fea266"/>
<rect x="350.8" y="907.65" width="40.5" height="2" fill="#fea367"/>
<rect x="350.8" y="909.35" width="40.5" height="2" fill="#ec6842"/>
<rect x="350.8" y="911.05" width="40.5" height="2" fill="#eb6540"/>
<rect x="350.8" y="912.75" width="40.5" height="2" fill="#ea623e"/>
<rect x="350.8" y="914.45" width="40.5" height="2" fill="#e24f35"/>
<rect x="350.8" y="916.15" width="40.5" height="2" fill="#e04932"/>
<rect x="350.8" y="917.86" width="40.5" height="2" fill="#e65939"/>
<rect x="350.8" y="919.56" width="40.5" height="2" fill="#f78051"/>
<rect x="350.8" y="921.26" width="40.5" height="2" fill="#f78051"/>
<rect x="350.8" y="922.96" width="40.5" height="2" fill="#f17349"/>
<rect x="350.8" y="924.66" width="40.5" height="2" fill="#f67f50"/>
<rect x="350.8" y="926.36" width="40.5" height="2" fill="#f2754a"/>
<rect x="350.8" y="928.07" width="40.5" height="2" fill="#f07147"/>
<rect x="350.8" y="929.77" width="40.5" height="2" fill="#f67e4f"/>
<rect x="350.8" y="931.47" width="40.5" height="2" fill="#f47a4d"/>
<rect x="350.8" y="933.17" width="40.5" height="2" fill="#eb6541"/>
<rect x="350.8" y="934.87" width="40.5" height="2" fill="#f07047"/>
<rect x="350.8" y="936.58" width="40.5" height="2" fill="#ee6c44"/>
<rect x="350.8" y="938.28" width="40.5" height="2" fill="#f07047"/>
<rect x="350.8" y="939.98" width="40.5" height="2" fill="#f07148"/>
<rect x="350.8" y="941.68" width="40.5" height="2" fill="#f17449"/>
<rect x="350.8" y="943.38" width="40.5" height="2" fill="#f47a4d"/>
<rect x="350.8" y="945.08" width="40.5" height="2" fill="#f17348"/>
<rect x="350.8" y="946.79" width="40.5" height="2" fill="#e9603d"/>
<rect x="350.8" y="948.49" width="40.5" height="2" fill="#e55638"/>
<rect x="350.8" y="950.19" width="40.5" height="2" fill="#e95f3d"/>
<rect x="350.8" y="951.89" width="40.5" height="2" fill="#f2754a"/>
<rect x="350.8" y="953.59" width="40.5" height="2" fill="#f07047"/>
<rect x="350.8" y="955.29" width="40.5" height="2" fill="#ef6d45"/>
<rect x="350.8" y="957" width="40.5" height="2" fill="#eb6641"/>
<rect x="350.8" y="958.7" width="40.5" height="2" fill="#f17348"/>
<rect x="390.7" y="669.4" width="39.9" height="2" fill="#ffc87f"/>
<rect x="390.7" y="671.1" width="39.9" height="2" fill="#fc8f5a"/>
<rect x="390.7" y="672.8" width="39.9" height="2" fill="#fa8856"/>
<rect x="390.7" y="674.51" width="39.9" height="2" fill="#f98554"/>
<rect x="390.7" y="676.21" width="39.9" height="2" fill="#f98655"/>
<rect x="390.7" y="677.91" width="39.9" height="2" fill="#fc8f5a"/>
<rect x="390.7" y="679.61" width="39.9" height="2" fill="#f57d4f"/>
<rect x="390.7" y="681.31" width="39.9" height="2" fill="#fb8c58"/>
<rect x="390.7" y="683.01" width="39.9" height="2" fill="#f47a4d"/>
<rect x="390.7" y="684.72" width="39.9" height="2" fill="#fa8755"/>
<rect x="390.7" y="686.42" width="39.9" height="2" fill="#fc905b"/>
<rect x="390.7" y="688.12" width="39.9" height="2" fill="#fea266"/>
<rect x="390.7" y="689.82" width="39.9" height="2" fill="#fea668"/>
<rect x="390.7" y="691.52" width="39.9" height="2" fill="#fd9860"/>
<rect x="390.7" y="693.22" width="39.9" height="2" fill="#fe9d63"/>
<rect x="390.7" y="694.93" width="39.9" height="2" fill="#d73027"/>
<rect x="390.7" y="696.63" width="39.9" height="2" fill="#d73027"/>
<rect x="390.7" y="698.33" width="39.9" height="2" fill="#d73027"/>
<rect x="390.7" y="700.03" width="39.9" height="2" fill="#d73027"/>
<rect x="390.7" y="701.73" width="39.9" height="2" fill="#d73027"/>
<rect x="390.7" y="703.44" width="39.9" height="2" fill="#d73027"/>
<rect x="390.7" y="705.14" width="39.9" height="2" fill="#d73027"/>
<rect x="390.7" y="706.84" width="39.9" height="2" fill="#d73027"/>
<rect x="390.7" y="708.54" width="39.9" height="2" fill="#de432f"/>
<rect x="390.7" y="710.24" width="39.9" height="2" fill="#e35135"/>
<rect x="390.7" y="711.94" width="39.9" height="2" fill="#e45437"/>
<rect x="390.7" y="713.65" width="39.9" height="2" fill="#df4630"/>
<rect x="390.7" y="715.35" width="39.9" height="2" fill="#e95f3d"/>
<rect x="390.7" y="717.05" width="39.9" height="2" fill="#e75b3b"/>
<rect x="390.7" y="718.75" width="39.9" height="2" fill="#e85d3c"/>
<rect x="390.7" y="720.45" width="39.9" height="2" fill="#ea623f"/>
<rect x="390.7" y="722.15" width="39.9" height="2" fill="#e85d3c"/>
<rect x="390.7" y="723.86" width="39.9" height="2" fill="#f2754a"/>
<rect x="390.7" y="725.56" width="39.9" height="2" fill="#ee6c44"/>
<rect x="390.7" y="727.26" width="39.9" height="2" fill="#f07147"/>
<rect x="390.7" y="728.96" width="39.9" height="2" fill="#f07047"/>
<rect x="390.7" y="730.66" width="39.9" height="2" fill="#ee6b44"/>
<rect x="390.7" y="732.36" width="39.9" height="2" fill="#f3784c"/>
<rect x="390.7" y="734.07" width="39.9" height="2" fill="#f07147"/>
<rect x="390.7" y="735.77" width="39.9" height="2" fill="#fd925c"/>
<rect x="390.7" y="737.47" width="39.9" height="2" fill="#fd9960"/>
<rect x="390.7" y="739.17" width="39.9" height="2" fill="#fc8c58"/>
<rect x="390.7" y="740.87" width="39.9" height="2" fill="#fd965f"/>
<rect x="390.7" y="742.58" width="39.9" height="2" fill="#fb8a57"/>
<rect x="390.7" y="744.28" width="39.9" height="2" fill="#fd925c"/>
<rect x="390.7" y="745.98" width="39.9" height="2" fill="#fb8a57"/>
<rect x="390.7" y="747.68" width="39.9" height="2" fill="#fb8a57"/>
<rect x="390.7" y="749.38" width="39.9" height="2" fill="#fd935d"/>
<rect x="390.7" y="751.08" width="39.9" height="2" fill="#fb8a57"/>
<rect x="390.7" y="752.79" width="39.9" height="2" fill="#fd9860"/>
<rect x="390.7" y="754.49" width="39.9" height="2" fill="#fd975f"/>
<rect x="390.7" y="756.19" width="39.9" height="2" fill="#fd925c"/>
<rect x="390.7" y="757.89" width="39.9" height="2" fill="#fd965e"/>
<rect x="390.7" y="759.59" width="39.9" height="2" fill="#fd935d"/>
<rect x="390.7" y="761.29" width="39.9" height="2" fill="#fc905b"/>
<rect x="390.7" y="763" width="39.9" height="2" fill="#fc8e59"/>
<rect x="390.7" y="764.7" width="39.9" height="2" fill="#fc8f5a"/>
<rect x="390.7" y="766.4" width="39.9" height="2" fill="#fd9a61"/>
<rect x="390.7" y="768.1" width="39.9" height="2" fill="#fc8c58"/>
<rect x="390.7" y="769.8" width="39.9" height="2" fill="#fb8c58"/>
<rect x="390.7" y="771.51" width="39.9" height="2" fill="#ffffbf"/>
<rect x="390.7" y="773.21" width="39.9" height="2" fill="#ffefa6"/>
<rect x="390.7" y="774.91" width="39.9" height="2" fill="#fff1aa"/>
<rect x="390.7" y="776.61" width="39.9" height="2" fill="#fff1aa"/>
<rect x="390.7" y="778.31" width="39.9" height="2" fill="#fff2ab"/>
<rect x="390.7" y="780.01" width="39.9" height="2" fill="#fff1aa"/>
<rect x="390.7" y="781.72" width="39.9" height="2" fill="#fff0a8"/>
<rect x="390.7" y="783.42" width="39.9" height="2" fill="#ffeea5"/>
<rect x="390.7" y="785.12" width="39.9" height="2" fill="#ffea9f"/>
<rect x="390.7" y="786.82" width="39.9" height="2" fill="#ffe99e"/>
<rect x="390.7" y="788.52" width="39.9" height="2" fill="#ffeaa0"/>
<rect x="390.7" y="790.22" width="39.9" height="2" fill="#ffe699"/>
<rect x="390.7" y="791.93" width="39.9" height="2" fill="#ffe99d"/>
<rect x="390.7" y="793.63" width="39.9" height="2" fill="#ffeaa0"/>
<rect x="390.7" y="795.33" width="39.9" height="2" fill="#ffffc0"/>
<rect x="390.7" y="797.03" width="39.9" height="2" fill="#feffc0"/>
<rect x="390.7" y="798.73" width="39.9" height="2" fill="#fff0a9"/>
<rect x="390.7" y="800.44" width="39.9" height="2" fill="#fff4af"/>
<rect x="390.7" y="802.14" width="39.9" height="2" fill="#fff5af"/>
<rect x="390.7" y="803.84" width="39.9" height="2" fill="#fff0a9"/>
<rect x="390.7" y="805.54" width="39.9" height="2" fill="#fd965f"/>
<rect x="390.7" y="807.24" width="39.9" height="2" fill="#fe9d63"/>
<rect x="390.7" y="808.94" width="39.9" height="2" fill="#fd955e"/>
<rect x="390.7" y="810.65" width="39.9" height="2" fill="#fd955e"/>
<rect x="390.7" y="812.35" width="39.9" height="2" fill="#fe9f64"/>
<rect x="390.7" y="814.05" width="39.9" height="2" fill="#fc915b"/>
<rect x="390.7" y="815.75" width="39.9" height="2" fill="#fd945d"/>
<rect x="390.7" y="817.45" width="39.9" height="2" fill="#ffb975"/>
<rect x="390.7" y="819.15" width="39.9" height="2" fill="#ffbb77"/>
<rect x="390.7" y="820.86" width="39.9" height="2" fill="#ffc17b"/>
<rect x="390.7" y="822.56" width="39.9" height="2" fill="#ffbe78"/>
<rect x="390.7" y="824.26" width="39.9" height="2" fill="#ffb975"/>
<rect x="390.7" y="825.96" width="39.9" height="2" fill="#ffbc77"/>
<rect x="390.7" y="827.66" width="39.9" height="2" fill="#ffca81"/>
<rect x="390.7" y="829.36" width="39.9" height="2" fill="#ffd286"/>
<rect x="390.7" y="831.07" width="39.9" height="2" fill="#ffd387"/>
<rect x="390.7" y="832.77" width="39.9" height="2" fill="#ffd387"/>
<rect x="390.7" y="834.47" width="39.9" height="2" fill="#ffcb81"/>
<rect x="390.7" y="836.17" width="39.9" height="2" fill="#ffd085"/>
<rect x="390.7" y="837.87" width="39.9" height="2" fill="#fee293"/>
<rect x="390.7" y="839.58" width="39.9" height="2" fill="#fee294"/>
<rect x="390.7" y="841.28" width="39.9" height="2" fill="#fee293"/>
<rect x="390.7" y="842.98" width="39.9" height="2" fill="#fee395"/>
<rect x="390.7" y="844.68" width="39.9" height="2" fill="#ffb270"/>
<rect x="390.7" y="846.38" width="39.9" height="2" fill="#ffb270"/>
<rect x="390.7" y="848.08" width="39.9" height="2" fill="#ffb975"/>
<rect x="390.7" y="849.79" width="39.9" height="2" fill="#ffaf6e"/>
<rect x="390.7" y="851.49" width="39.9" height="2" fill="#ffbd78"/>
<rect x="390.7" y="853.19" width="39.9" height="2" fill="#ffbe78"/>
<rect x="390.7" y="854.89" width="39.9" height="2" fill="#ffb270"/>
<rect x="390.7" y="856.59" width="39.9" height="2" fill="#ffb170"/>
<rect x="390.7" y="858.29" width="39.9" height="2" fill="#ffb472"/>
<rect x="390.7" y="860" width="39.9" height="2" fill="#ffb673"/>
<rect x="390.7" y="861.7" width="39.9" height="2" fill="#ffc07a"/>
<rect x="390.7" y="863.4" width="39.9" height="2" fill="#ffb572"/>
<rect x="390.7" y="865.1" width="39.9" height="2" fill="#ffaf6f"/>
<rect x="390.7" y="866.8" width="39.9" height="2" fill="#ffb06f"/>
<rect x="390.7" y="868.51" width="39.9" height="2" fill="#ffbd77"/>
<rect x="390.7" y="870.21" width="39.9" height="2" fill="#ffbb76"/>
<rect x="390.7" y="871.91" width="39.9" height="2" fill="#ffb673"/>
<rect x="390.7" y="873.61" width="39.9" height="2" fill="#ffb975"/>
<rect x="390.7" y="875.31" width="39.9" height="2" fill="#ffbb76"/>
<rect x="390.7" y="877.01" width="39.9" height="2" fill="#ffc07a"/>
<rect x="390.7" y="878.72" width="39.9" height="2" fill="#ffbb76"/>
<rect x="390.7" y="880.42" width="39.9" height="2" fill="#ffba76"/>
<rect x="390.7" y="882.12" width="39.9" height="2" fill="#ffbf79"/>
<rect x="390.7" y="883.82" width="39.9" height="2" fill="#ffc57d"/>
<rect x="390.7" y="885.52" width="39.9" height="2" fill="#ffd88a"/>
<rect x="390.7" y="887.22" width="39.9" height="2" fill="#ffd085"/>
<rect x="390.7" y="888.93" width="39.9" height="2" fill="#ffd488"/>
<rect x="390.7" y="890.63" width="39.9" height="2" fill="#ffd387"/>
<rect x="390.7" y="892.33" width="39.9" height="2" fill="#ffd487"/>
<rect x="390.7" y="894.03" width="39.9" height="2" fill="#ffd085"/>
<rect x="390.7" y="895.73" width="39.9" height="2" fill="#ffd387"/>
<rect x="390.7" y="897.44" width="39.9" height="2" fill="#ffd789"/>
<rect x="390.7" y="899.14" width="39.9" height="2" fill="#ffd487"/>
<rect x="390.7" y="900.84" width="39.9" height="2" fill="#ffd185"/>
<rect x="390.7" y="902.54" width="39.9" height="2" fill="#ffd588"/>
<rect x="390.7" y="904.24" width="39.9" height="2" fill="#ffc47c"/>
<rect x="390.7" y="905.94" width="39.9" height="2" fill="#ffc17b"/>
<rect x="390.7" y="907.65" width="39.9" height="2" fill="#ffc37c"/>
<rect x="390.7" y="909.35" width="39.9" height="2" fill="#ffd387"/>
<rect x="390.7" y="911.05" width="39.9" height="2" fill="#ffd387"/>
<rect x="390.7" y="912.75" width="39.9" height="2" fill="#fedb8c"/>
<rect x="390.7" y="914.45" width="39.9" height="2" fill="#ffd387"/>
<rect x="390.7" y="916.15" width="39.9" height="2" fill="#fedc8d"/>
<rect x="390.7" y="917.86" width="39.9" height="2" fill="#ffd98b"/>
<rect x="390.7" y="919.56" width="39.9" height="2" fill="#ffcb81"/>
<rect x="390.7" y="921.26" width="39.9" height="2" fill="#ffc67e"/>
<rect x="390.7" y="922.96" width="39.9" height="2" fill="#ffc37c"/>
<rect x="390.7" y="924.66" width="39.9" height="2" fill="#ffc57d"/>
<rect x="390.7" y="926.36" width="39.9" height="2" fill="#ffcc82"/>
<rect x="390.7" y="928.07" width="39.9" height="2" fill="#ffc27b"/>
<rect x="390.7" y="929.77" width="39.9" height="2" fill="#ffc27b"/>
<rect x="390.7" y="931.47" width="39.9" height="2" fill="#ffc87f"/>
<rect x="390.7" y="933.17" width="39.9" height="2" fill="#ffc47c"/>
<rect x="390.7" y="934.87" width="39.9" height="2" fill="#ffc980"/>
<rect x="390.7" y="936.58" width="39.9" height="2" fill="#ffca80"/>
<rect x="390.7" y="938.28" width="39.9" height="2" fill="#ffca81"/>
<rect x="390.7" y="939.98" width="39.9" height="2" fill="#ffc47d"/>
<rect x="390.7" y="941.68" width="39.9" height="2" fill="#ffbd77"/>
<rect x="390.7" y="943.38" width="39.9" height="2" fill="#ffbf79"/>
<rect x="390.7" y="945.08" width="39.9" height="2" fill="#ffbb77"/>
<rect x="390.7" y="946.79" width="39.9" height="2" fill="#ffb271"/>
<rect x="390.7" y="948.49" width="39.9" height="2" fill="#ffb371"/>
<rect x="390.7" y="950.19" width="39.9" height="2" fill="#ffc07a"/>
<rect x="390.7" y="951.89" width="39.9" height="2" fill="#ffb673"/>
<rect x="390.7" y="953.59" width="39.9" height="2" fill="#ffc27b"/>
<rect x="390.7" y="955.29" width="39.9" height="2" fill="#ffb472"/>
<rect x="390.7" y="957" width="39.9" height="2" fill="#ffc07a"/>
<rect x="390.7" y="958.7" width="39.9" height="2" fill="#ffb471"/>
<rect x="339.9" y="669.4" width="8.1" height="27.4" fill="#FC8D86"/>
<rect x="339.9" y="696.8" width="8.1" height="19.4" fill="#00D4DC"/>
<rect x="339.9" y="716.2" width="8.1" height="1.2" fill="#7fb2b4"/>
<rect x="339.9" y="717.3" width="8.1" height="1.2" fill="#9aa9a8"/>
<rect x="339.9" y="718.4" width="8.1" height="1.2" fill="#7fb2b4"/>
<rect x="339.9" y="719.5" width="8.1" height="1.2" fill="#9aa9a8"/>
<rect x="339.9" y="720.6" width="8.1" height="1.2" fill="#7fb2b4"/>
<rect x="339.9" y="721.7" width="8.1" height="1.2" fill="#9aa9a8"/>
<rect x="339.9" y="721.9" width="8.1" height="1.9" fill="#00D4DC"/>
<rect x="339.9" y="723.8" width="8.1" height="0.9" fill="#FC8D86"/>
<rect x="339.9" y="724.7" width="8.1" height="7.5" fill="#00D4DC"/>
<rect x="339.9" y="732.2" width="8.1" height="1.3" fill="#FC8D86"/>
<rect x="339.9" y="733.5" width="8.1" height="1.3" fill="#00D4DC"/>
<rect x="339.9" y="734.8" width="8.1" height="0.9" fill="#FC8D86"/>
<rect x="339.9" y="735.7" width="8.1" height="10.7" fill="#00D4DC"/>
<rect x="339.9" y="746.4" width="8.1" height="14.6" fill="#FC8D86"/>
<rect x="339.9" y="761" width="8.1" height="1" fill="#00D4DC"/>
<rect x="339.9" y="762" width="8.1" height="43.7" fill="#FC8D86"/>
<rect x="339.9" y="805.7" width="8.1" height="16.5" fill="#00D4DC"/>
<rect x="339.9" y="822.2" width="8.1" height="2.5" fill="#FC8D86"/>
<rect x="339.9" y="824.7" width="8.1" height="5.4" fill="#00D4DC"/>
<rect x="339.9" y="830.1" width="8.1" height="8.2" fill="#FC8D86"/>
<rect x="339.9" y="838.3" width="8.1" height="1" fill="#00D4DC"/>
<rect x="339.9" y="839.3" width="8.1" height="121.2" fill="#FC8D86"/>
<rect x="339.9" y="939.7" width="90.7" height="0.6" fill="#fff" opacity="0.55"/>
</g>
<g stroke-linecap="square"><line x1="335.5" y1="671.95" x2="335.5" y2="673.65" stroke="#262626" stroke-width="0.85"/><line x1="335.5" y1="671.95" x2="338.9" y2="671.95" stroke="#262626" stroke-width="0.85"/><line x1="335.5" y1="673.65" x2="338.9" y2="673.65" stroke="#262626" stroke-width="0.85"/><line x1="338.48" y1="677.06" x2="338.48" y2="678.76" stroke="#262626" stroke-width="0.85"/><line x1="338.48" y1="677.06" x2="338.9" y2="677.06" stroke="#262626" stroke-width="0.85"/><line x1="338.48" y1="678.76" x2="338.9" y2="678.76" stroke="#262626" stroke-width="0.85"/><line x1="338.17" y1="677.91" x2="338.17" y2="680.46" stroke="#262626" stroke-width="0.85"/><line x1="338.17" y1="677.91" x2="338.48" y2="677.91" stroke="#262626" stroke-width="0.85"/><line x1="338.17" y1="680.46" x2="338.9" y2="680.46" stroke="#262626" stroke-width="0.85"/><line x1="337.9" y1="675.36" x2="337.9" y2="679.19" stroke="#262626" stroke-width="0.85"/><line x1="337.9" y1="675.36" x2="338.9" y2="675.36" stroke="#262626" stroke-width="0.85"/><line x1="337.9" y1="679.19" x2="338.17" y2="679.19" stroke="#262626" stroke-width="0.85"/><line x1="336.84" y1="682.16" x2="336.84" y2="683.86" stroke="#262626" stroke-width="0.85"/><line x1="336.84" y1="682.16" x2="338.9" y2="682.16" stroke="#262626" stroke-width="0.85"/><line x1="336.84" y1="683.86" x2="338.9" y2="683.86" stroke="#262626" stroke-width="0.85"/><line x1="336" y1="677.27" x2="336" y2="683.01" stroke="#262626" stroke-width="0.85"/><line x1="336" y1="677.27" x2="337.9" y2="677.27" stroke="#262626" stroke-width="0.85"/><line x1="336" y1="683.01" x2="336.84" y2="683.01" stroke="#262626" stroke-width="0.85"/><line x1="338.36" y1="685.57" x2="338.36" y2="687.27" stroke="#262626" stroke-width="0.85"/><line x1="338.36" y1="685.57" x2="338.9" y2="685.57" stroke="#262626" stroke-width="0.85"/><line x1="338.36" y1="687.27" x2="338.9" y2="687.27" stroke="#262626" stroke-width="0.85"/><line x1="337.68" y1="686.42" x2="337.68" y2="688.97" stroke="#262626" stroke-width="0.85"/><line x1="337.68" y1="686.42" x2="338.36" y2="686.42" stroke="#262626" stroke-width="0.85"/><line x1="337.68" y1="688.97" x2="338.9" y2="688.97" stroke="#262626" stroke-width="0.85"/><line x1="338.27" y1="690.67" x2="338.27" y2="692.37" stroke="#262626" stroke-width="0.85"/><line x1="338.27" y1="690.67" x2="338.9" y2="690.67" stroke="#262626" stroke-width="0.85"/><line x1="338.27" y1="692.37" x2="338.9" y2="692.37" stroke="#262626" stroke-width="0.85"/><line x1="338.3" y1="694.08" x2="338.3" y2="695.78" stroke="#262626" stroke-width="0.85"/><line x1="338.3" y1="694.08" x2="338.9" y2="694.08" stroke="#262626" stroke-width="0.85"/><line x1="338.3" y1="695.78" x2="338.9" y2="695.78" stroke="#262626" stroke-width="0.85"/><line x1="337.61" y1="691.52" x2="337.61" y2="694.93" stroke="#262626" stroke-width="0.85"/><line x1="337.61" y1="691.52" x2="338.27" y2="691.52" stroke="#262626" stroke-width="0.85"/><line x1="337.61" y1="694.93" x2="338.3" y2="694.93" stroke="#262626" stroke-width="0.85"/><line x1="336.2" y1="687.69" x2="336.2" y2="693.22" stroke="#262626" stroke-width="0.85"/><line x1="336.2" y1="687.69" x2="337.68" y2="687.69" stroke="#262626" stroke-width="0.85"/><line x1="336.2" y1="693.22" x2="337.61" y2="693.22" stroke="#262626" stroke-width="0.85"/><line x1="334.3" y1="680.14" x2="334.3" y2="690.46" stroke="#3a3a3a" stroke-width="0.9"/><line x1="334.3" y1="680.14" x2="336" y2="680.14" stroke="#3a3a3a" stroke-width="0.9"/><line x1="334.3" y1="690.46" x2="336.2" y2="690.46" stroke="#3a3a3a" stroke-width="0.9"/><line x1="331.9" y1="672.8" x2="331.9" y2="685.3" stroke="#3a3a3a" stroke-width="0.9"/><line x1="331.9" y1="672.8" x2="335.5" y2="672.8" stroke="#3a3a3a" stroke-width="0.9"/><line x1="331.9" y1="685.3" x2="334.3" y2="685.3" stroke="#3a3a3a" stroke-width="0.9"/><line x1="334.5" y1="697.48" x2="334.5" y2="699.18" stroke="#262626" stroke-width="0.85"/><line x1="334.5" y1="697.48" x2="338.9" y2="697.48" stroke="#262626" stroke-width="0.85"/><line x1="334.5" y1="699.18" x2="338.9" y2="699.18" stroke="#262626" stroke-width="0.85"/><line x1="337.13" y1="702.58" x2="337.13" y2="704.29" stroke="#262626" stroke-width="0.85"/><line x1="337.13" y1="702.58" x2="338.9" y2="702.58" stroke="#262626" stroke-width="0.85"/><line x1="337.13" y1="704.29" x2="338.9" y2="704.29" stroke="#262626" stroke-width="0.85"/><line x1="336.34" y1="700.88" x2="336.34" y2="703.44" stroke="#262626" stroke-width="0.85"/><line x1="336.34" y1="700.88" x2="338.9" y2="700.88" stroke="#262626" stroke-width="0.85"/><line x1="336.34" y1="703.44" x2="337.13" y2="703.44" stroke="#262626" stroke-width="0.85"/><line x1="336.34" y1="705.99" x2="336.34" y2="707.69" stroke="#262626" stroke-width="0.85"/><line x1="336.34" y1="705.99" x2="338.9" y2="705.99" stroke="#262626" stroke-width="0.85"/><line x1="336.34" y1="707.69" x2="338.9" y2="707.69" stroke="#262626" stroke-width="0.85"/><line x1="333.5" y1="702.16" x2="333.5" y2="706.84" stroke="#262626" stroke-width="0.85"/><line x1="333.5" y1="702.16" x2="336.34" y2="702.16" stroke="#262626" stroke-width="0.85"/><line x1="333.5" y1="706.84" x2="336.34" y2="706.84" stroke="#262626" stroke-width="0.85"/><line x1="330.4" y1="698.33" x2="330.4" y2="704.5" stroke="#3a3a3a" stroke-width="0.9"/><line x1="330.4" y1="698.33" x2="334.5" y2="698.33" stroke="#3a3a3a" stroke-width="0.9"/><line x1="330.4" y1="704.5" x2="333.5" y2="704.5" stroke="#3a3a3a" stroke-width="0.9"/><line x1="338.81" y1="714.5" x2="338.81" y2="716.2" stroke="#262626" stroke-width="0.85"/><line x1="338.81" y1="714.5" x2="338.9" y2="714.5" stroke="#262626" stroke-width="0.85"/><line x1="338.81" y1="716.2" x2="338.9" y2="716.2" stroke="#262626" stroke-width="0.85"/><line x1="338.68" y1="715.35" x2="338.68" y2="717.9" stroke="#262626" stroke-width="0.85"/><line x1="338.68" y1="715.35" x2="338.81" y2="715.35" stroke="#262626" stroke-width="0.85"/><line x1="338.68" y1="717.9" x2="338.9" y2="717.9" stroke="#262626" stroke-width="0.85"/><line x1="338.09" y1="712.79" x2="338.09" y2="716.62" stroke="#262626" stroke-width="0.85"/><line x1="338.09" y1="712.79" x2="338.9" y2="712.79" stroke="#262626" stroke-width="0.85"/><line x1="338.09" y1="716.62" x2="338.68" y2="716.62" stroke="#262626" stroke-width="0.85"/><line x1="337.79" y1="711.09" x2="337.79" y2="714.71" stroke="#262626" stroke-width="0.85"/><line x1="337.79" y1="711.09" x2="338.9" y2="711.09" stroke="#262626" stroke-width="0.85"/><line x1="337.79" y1="714.71" x2="338.09" y2="714.71" stroke="#262626" stroke-width="0.85"/><line x1="336" y1="712.9" x2="336" y2="719.6" stroke="#262626" stroke-width="0.85"/><line x1="336" y1="712.9" x2="337.79" y2="712.9" stroke="#262626" stroke-width="0.85"/><line x1="336" y1="719.6" x2="338.9" y2="719.6" stroke="#262626" stroke-width="0.85"/><line x1="338.42" y1="723.01" x2="338.42" y2="724.71" stroke="#262626" stroke-width="0.85"/><line x1="338.42" y1="723.01" x2="338.9" y2="723.01" stroke="#262626" stroke-width="0.85"/><line x1="338.42" y1="724.71" x2="338.9" y2="724.71" stroke="#262626" stroke-width="0.85"/><line x1="337.53" y1="721.3" x2="337.53" y2="723.86" stroke="#262626" stroke-width="0.85"/><line x1="337.53" y1="721.3" x2="338.9" y2="721.3" stroke="#262626" stroke-width="0.85"/><line x1="337.53" y1="723.86" x2="338.42" y2="723.86" stroke="#262626" stroke-width="0.85"/><line x1="338.53" y1="726.41" x2="338.53" y2="728.11" stroke="#262626" stroke-width="0.85"/><line x1="338.53" y1="726.41" x2="338.9" y2="726.41" stroke="#262626" stroke-width="0.85"/><line x1="338.53" y1="728.11" x2="338.9" y2="728.11" stroke="#262626" stroke-width="0.85"/><line x1="337.83" y1="727.26" x2="337.83" y2="729.81" stroke="#262626" stroke-width="0.85"/><line x1="337.83" y1="727.26" x2="338.53" y2="727.26" stroke="#262626" stroke-width="0.85"/><line x1="337.83" y1="729.81" x2="338.9" y2="729.81" stroke="#262626" stroke-width="0.85"/><line x1="336" y1="722.58" x2="336" y2="728.54" stroke="#262626" stroke-width="0.85"/><line x1="336" y1="722.58" x2="337.53" y2="722.58" stroke="#262626" stroke-width="0.85"/><line x1="336" y1="728.54" x2="337.83" y2="728.54" stroke="#262626" stroke-width="0.85"/><line x1="334.3" y1="716.25" x2="334.3" y2="725.56" stroke="#3a3a3a" stroke-width="0.9"/><line x1="334.3" y1="716.25" x2="336" y2="716.25" stroke="#3a3a3a" stroke-width="0.9"/><line x1="334.3" y1="725.56" x2="336" y2="725.56" stroke="#3a3a3a" stroke-width="0.9"/><line x1="338.13" y1="733.22" x2="338.13" y2="734.92" stroke="#262626" stroke-width="0.85"/><line x1="338.13" y1="733.22" x2="338.9" y2="733.22" stroke="#262626" stroke-width="0.85"/><line x1="338.13" y1="734.92" x2="338.9" y2="734.92" stroke="#262626" stroke-width="0.85"/><line x1="338.3" y1="736.62" x2="338.3" y2="738.32" stroke="#262626" stroke-width="0.85"/><line x1="338.3" y1="736.62" x2="338.9" y2="736.62" stroke="#262626" stroke-width="0.85"/><line x1="338.3" y1="738.32" x2="338.9" y2="738.32" stroke="#262626" stroke-width="0.85"/><line x1="337.74" y1="734.07" x2="337.74" y2="737.47" stroke="#262626" stroke-width="0.85"/><line x1="337.74" y1="734.07" x2="338.13" y2="734.07" stroke="#262626" stroke-width="0.85"/><line x1="337.74" y1="737.47" x2="338.3" y2="737.47" stroke="#262626" stroke-width="0.85"/><line x1="336.11" y1="731.51" x2="336.11" y2="735.77" stroke="#262626" stroke-width="0.85"/><line x1="336.11" y1="731.51" x2="338.9" y2="731.51" stroke="#262626" stroke-width="0.85"/><line x1="336.11" y1="735.77" x2="337.74" y2="735.77" stroke="#262626" stroke-width="0.85"/><line x1="338.23" y1="740.02" x2="338.23" y2="741.72" stroke="#262626" stroke-width="0.85"/><line x1="338.23" y1="740.02" x2="338.9" y2="740.02" stroke="#262626" stroke-width="0.85"/><line x1="338.23" y1="741.72" x2="338.9" y2="741.72" stroke="#262626" stroke-width="0.85"/><line x1="337.65" y1="740.87" x2="337.65" y2="743.43" stroke="#262626" stroke-width="0.85"/><line x1="337.65" y1="740.87" x2="338.23" y2="740.87" stroke="#262626" stroke-width="0.85"/><line x1="337.65" y1="743.43" x2="338.9" y2="743.43" stroke="#262626" stroke-width="0.85"/><line x1="336.4" y1="745.13" x2="336.4" y2="746.83" stroke="#262626" stroke-width="0.85"/><line x1="336.4" y1="745.13" x2="338.9" y2="745.13" stroke="#262626" stroke-width="0.85"/><line x1="336.4" y1="746.83" x2="338.9" y2="746.83" stroke="#262626" stroke-width="0.85"/><line x1="335.35" y1="742.15" x2="335.35" y2="745.98" stroke="#262626" stroke-width="0.85"/><line x1="335.35" y1="742.15" x2="337.65" y2="742.15" stroke="#262626" stroke-width="0.85"/><line x1="335.35" y1="745.98" x2="336.4" y2="745.98" stroke="#262626" stroke-width="0.85"/><line x1="334.27" y1="733.64" x2="334.27" y2="744.06" stroke="#262626" stroke-width="0.85"/><line x1="334.27" y1="733.64" x2="336.11" y2="733.64" stroke="#262626" stroke-width="0.85"/><line x1="334.27" y1="744.06" x2="335.35" y2="744.06" stroke="#262626" stroke-width="0.85"/><line x1="338.8" y1="750.23" x2="338.8" y2="751.94" stroke="#262626" stroke-width="0.85"/><line x1="338.8" y1="750.23" x2="338.9" y2="750.23" stroke="#262626" stroke-width="0.85"/><line x1="338.8" y1="751.94" x2="338.9" y2="751.94" stroke="#262626" stroke-width="0.85"/><line x1="338.63" y1="751.08" x2="338.63" y2="753.64" stroke="#262626" stroke-width="0.85"/><line x1="338.63" y1="751.08" x2="338.8" y2="751.08" stroke="#262626" stroke-width="0.85"/><line x1="338.63" y1="753.64" x2="338.9" y2="753.64" stroke="#262626" stroke-width="0.85"/><line x1="338.35" y1="752.36" x2="338.35" y2="755.34" stroke="#262626" stroke-width="0.85"/><line x1="338.35" y1="752.36" x2="338.63" y2="752.36" stroke="#262626" stroke-width="0.85"/><line x1="338.35" y1="755.34" x2="338.9" y2="755.34" stroke="#262626" stroke-width="0.85"/><line x1="336.94" y1="748.53" x2="336.94" y2="753.85" stroke="#262626" stroke-width="0.85"/><line x1="336.94" y1="748.53" x2="338.9" y2="748.53" stroke="#262626" stroke-width="0.85"/><line x1="336.94" y1="753.85" x2="338.35" y2="753.85" stroke="#262626" stroke-width="0.85"/><line x1="338.42" y1="757.04" x2="338.42" y2="758.74" stroke="#262626" stroke-width="0.85"/><line x1="338.42" y1="757.04" x2="338.9" y2="757.04" stroke="#262626" stroke-width="0.85"/><line x1="338.42" y1="758.74" x2="338.9" y2="758.74" stroke="#262626" stroke-width="0.85"/><line x1="338.26" y1="757.89" x2="338.26" y2="760.44" stroke="#262626" stroke-width="0.85"/><line x1="338.26" y1="757.89" x2="338.42" y2="757.89" stroke="#262626" stroke-width="0.85"/><line x1="338.26" y1="760.44" x2="338.9" y2="760.44" stroke="#262626" stroke-width="0.85"/><line x1="336.38" y1="751.19" x2="336.38" y2="759.17" stroke="#262626" stroke-width="0.85"/><line x1="336.38" y1="751.19" x2="336.94" y2="751.19" stroke="#262626" stroke-width="0.85"/><line x1="336.38" y1="759.17" x2="338.26" y2="759.17" stroke="#262626" stroke-width="0.85"/><line x1="333" y1="738.85" x2="333" y2="755.18" stroke="#262626" stroke-width="0.85"/><line x1="333" y1="738.85" x2="334.27" y2="738.85" stroke="#262626" stroke-width="0.85"/><line x1="333" y1="755.18" x2="336.38" y2="755.18" stroke="#262626" stroke-width="0.85"/><line x1="331.1" y1="720.9" x2="331.1" y2="747.02" stroke="#3a3a3a" stroke-width="0.9"/><line x1="331.1" y1="720.9" x2="334.3" y2="720.9" stroke="#3a3a3a" stroke-width="0.9"/><line x1="331.1" y1="747.02" x2="333" y2="747.02" stroke="#3a3a3a" stroke-width="0.9"/><line x1="329.9" y1="709.39" x2="329.9" y2="733.96" stroke="#3a3a3a" stroke-width="0.9"/><line x1="329.9" y1="709.39" x2="338.9" y2="709.39" stroke="#3a3a3a" stroke-width="0.9"/><line x1="329.9" y1="733.96" x2="331.1" y2="733.96" stroke="#3a3a3a" stroke-width="0.9"/><line x1="325.7" y1="701.41" x2="325.7" y2="721.68" stroke="#3a3a3a" stroke-width="0.9"/><line x1="325.7" y1="701.41" x2="330.4" y2="701.41" stroke="#3a3a3a" stroke-width="0.9"/><line x1="325.7" y1="721.68" x2="329.9" y2="721.68" stroke="#3a3a3a" stroke-width="0.9"/><line x1="324.2" y1="679.05" x2="324.2" y2="711.55" stroke="#3a3a3a" stroke-width="0.9"/><line x1="324.2" y1="679.05" x2="331.9" y2="679.05" stroke="#3a3a3a" stroke-width="0.9"/><line x1="324.2" y1="711.55" x2="325.7" y2="711.55" stroke="#3a3a3a" stroke-width="0.9"/><line x1="337.6" y1="762.15" x2="337.6" y2="763.85" stroke="#262626" stroke-width="0.85"/><line x1="337.6" y1="762.15" x2="338.9" y2="762.15" stroke="#262626" stroke-width="0.85"/><line x1="337.6" y1="763.85" x2="338.9" y2="763.85" stroke="#262626" stroke-width="0.85"/><line x1="338.7" y1="768.95" x2="338.7" y2="770.65" stroke="#262626" stroke-width="0.85"/><line x1="338.7" y1="768.95" x2="338.9" y2="768.95" stroke="#262626" stroke-width="0.85"/><line x1="338.7" y1="770.65" x2="338.9" y2="770.65" stroke="#262626" stroke-width="0.85"/><line x1="338.87" y1="772.36" x2="338.87" y2="774.06" stroke="#262626" stroke-width="0.85"/><line x1="338.87" y1="772.36" x2="338.9" y2="772.36" stroke="#262626" stroke-width="0.85"/><line x1="338.87" y1="774.06" x2="338.9" y2="774.06" stroke="#262626" stroke-width="0.85"/><line x1="338.84" y1="773.21" x2="338.84" y2="775.76" stroke="#262626" stroke-width="0.85"/><line x1="338.84" y1="773.21" x2="338.87" y2="773.21" stroke="#262626" stroke-width="0.85"/><line x1="338.84" y1="775.76" x2="338.9" y2="775.76" stroke="#262626" stroke-width="0.85"/><line x1="338.73" y1="774.48" x2="338.73" y2="777.46" stroke="#262626" stroke-width="0.85"/><line x1="338.73" y1="774.48" x2="338.84" y2="774.48" stroke="#262626" stroke-width="0.85"/><line x1="338.73" y1="777.46" x2="338.9" y2="777.46" stroke="#262626" stroke-width="0.85"/><line x1="338.63" y1="769.8" x2="338.63" y2="775.97" stroke="#262626" stroke-width="0.85"/><line x1="338.63" y1="769.8" x2="338.7" y2="769.8" stroke="#262626" stroke-width="0.85"/><line x1="338.63" y1="775.97" x2="338.73" y2="775.97" stroke="#262626" stroke-width="0.85"/><line x1="337.89" y1="767.25" x2="337.89" y2="772.89" stroke="#262626" stroke-width="0.85"/><line x1="337.89" y1="767.25" x2="338.9" y2="767.25" stroke="#262626" stroke-width="0.85"/><line x1="337.89" y1="772.89" x2="338.63" y2="772.89" stroke="#262626" stroke-width="0.85"/><line x1="336.94" y1="765.55" x2="336.94" y2="770.07" stroke="#262626" stroke-width="0.85"/><line x1="336.94" y1="765.55" x2="338.9" y2="765.55" stroke="#262626" stroke-width="0.85"/><line x1="336.94" y1="770.07" x2="337.89" y2="770.07" stroke="#262626" stroke-width="0.85"/><line x1="336.05" y1="763" x2="336.05" y2="767.81" stroke="#262626" stroke-width="0.85"/><line x1="336.05" y1="763" x2="337.6" y2="763" stroke="#262626" stroke-width="0.85"/><line x1="336.05" y1="767.81" x2="336.94" y2="767.81" stroke="#262626" stroke-width="0.85"/><line x1="338.25" y1="779.16" x2="338.25" y2="780.86" stroke="#262626" stroke-width="0.85"/><line x1="338.25" y1="779.16" x2="338.9" y2="779.16" stroke="#262626" stroke-width="0.85"/><line x1="338.25" y1="780.86" x2="338.9" y2="780.86" stroke="#262626" stroke-width="0.85"/><line x1="337.76" y1="780.01" x2="337.76" y2="782.57" stroke="#262626" stroke-width="0.85"/><line x1="337.76" y1="780.01" x2="338.25" y2="780.01" stroke="#262626" stroke-width="0.85"/><line x1="337.76" y1="782.57" x2="338.9" y2="782.57" stroke="#262626" stroke-width="0.85"/><line x1="336.8" y1="781.29" x2="336.8" y2="784.27" stroke="#262626" stroke-width="0.85"/><line x1="336.8" y1="781.29" x2="337.76" y2="781.29" stroke="#262626" stroke-width="0.85"/><line x1="336.8" y1="784.27" x2="338.9" y2="784.27" stroke="#262626" stroke-width="0.85"/><line x1="336.5" y1="785.97" x2="336.5" y2="787.67" stroke="#262626" stroke-width="0.85"/><line x1="336.5" y1="785.97" x2="338.9" y2="785.97" stroke="#262626" stroke-width="0.85"/><line x1="336.5" y1="787.67" x2="338.9" y2="787.67" stroke="#262626" stroke-width="0.85"/><line x1="335.56" y1="782.78" x2="335.56" y2="786.82" stroke="#262626" stroke-width="0.85"/><line x1="335.56" y1="782.78" x2="336.8" y2="782.78" stroke="#262626" stroke-width="0.85"/><line x1="335.56" y1="786.82" x2="336.5" y2="786.82" stroke="#262626" stroke-width="0.85"/><line x1="332.3" y1="765.4" x2="332.3" y2="784.8" stroke="#262626" stroke-width="0.85"/><line x1="332.3" y1="765.4" x2="336.05" y2="765.4" stroke="#262626" stroke-width="0.85"/><line x1="332.3" y1="784.8" x2="335.56" y2="784.8" stroke="#262626" stroke-width="0.85"/><line x1="334.9" y1="789.37" x2="334.9" y2="791.08" stroke="#262626" stroke-width="0.85"/><line x1="334.9" y1="789.37" x2="338.9" y2="789.37" stroke="#262626" stroke-width="0.85"/><line x1="334.9" y1="791.08" x2="338.9" y2="791.08" stroke="#262626" stroke-width="0.85"/><line x1="337.28" y1="794.48" x2="337.28" y2="796.18" stroke="#262626" stroke-width="0.85"/><line x1="337.28" y1="794.48" x2="338.9" y2="794.48" stroke="#262626" stroke-width="0.85"/><line x1="337.28" y1="796.18" x2="338.9" y2="796.18" stroke="#262626" stroke-width="0.85"/><line x1="336.76" y1="792.78" x2="336.76" y2="795.33" stroke="#262626" stroke-width="0.85"/><line x1="336.76" y1="792.78" x2="338.9" y2="792.78" stroke="#262626" stroke-width="0.85"/><line x1="336.76" y1="795.33" x2="337.28" y2="795.33" stroke="#262626" stroke-width="0.85"/><line x1="331.7" y1="790.22" x2="331.7" y2="794.05" stroke="#262626" stroke-width="0.85"/><line x1="331.7" y1="790.22" x2="334.9" y2="790.22" stroke="#262626" stroke-width="0.85"/><line x1="331.7" y1="794.05" x2="336.76" y2="794.05" stroke="#262626" stroke-width="0.85"/><line x1="326.3" y1="775.1" x2="326.3" y2="792.14" stroke="#3a3a3a" stroke-width="0.9"/><line x1="326.3" y1="775.1" x2="332.3" y2="775.1" stroke="#3a3a3a" stroke-width="0.9"/><line x1="326.3" y1="792.14" x2="331.7" y2="792.14" stroke="#3a3a3a" stroke-width="0.9"/><line x1="338.7" y1="801.29" x2="338.7" y2="802.99" stroke="#262626" stroke-width="0.85"/><line x1="338.7" y1="801.29" x2="338.9" y2="801.29" stroke="#262626" stroke-width="0.85"/><line x1="338.7" y1="802.99" x2="338.9" y2="802.99" stroke="#262626" stroke-width="0.85"/><line x1="338.62" y1="799.58" x2="338.62" y2="802.14" stroke="#262626" stroke-width="0.85"/><line x1="338.62" y1="799.58" x2="338.9" y2="799.58" stroke="#262626" stroke-width="0.85"/><line x1="338.62" y1="802.14" x2="338.7" y2="802.14" stroke="#262626" stroke-width="0.85"/><line x1="338.01" y1="800.86" x2="338.01" y2="804.69" stroke="#262626" stroke-width="0.85"/><line x1="338.01" y1="800.86" x2="338.62" y2="800.86" stroke="#262626" stroke-width="0.85"/><line x1="338.01" y1="804.69" x2="338.9" y2="804.69" stroke="#262626" stroke-width="0.85"/><line x1="337.43" y1="802.77" x2="337.43" y2="806.39" stroke="#262626" stroke-width="0.85"/><line x1="337.43" y1="802.77" x2="338.01" y2="802.77" stroke="#262626" stroke-width="0.85"/><line x1="337.43" y1="806.39" x2="338.9" y2="806.39" stroke="#262626" stroke-width="0.85"/><line x1="336.93" y1="797.88" x2="336.93" y2="804.58" stroke="#262626" stroke-width="0.85"/><line x1="336.93" y1="797.88" x2="338.9" y2="797.88" stroke="#262626" stroke-width="0.85"/><line x1="336.93" y1="804.58" x2="337.43" y2="804.58" stroke="#262626" stroke-width="0.85"/><line x1="334.19" y1="801.23" x2="334.19" y2="808.09" stroke="#262626" stroke-width="0.85"/><line x1="334.19" y1="801.23" x2="336.93" y2="801.23" stroke="#262626" stroke-width="0.85"/><line x1="334.19" y1="808.09" x2="338.9" y2="808.09" stroke="#262626" stroke-width="0.85"/><line x1="338.62" y1="809.79" x2="338.62" y2="811.5" stroke="#262626" stroke-width="0.85"/><line x1="338.62" y1="809.79" x2="338.9" y2="809.79" stroke="#262626" stroke-width="0.85"/><line x1="338.62" y1="811.5" x2="338.9" y2="811.5" stroke="#262626" stroke-width="0.85"/><line x1="338.71" y1="814.9" x2="338.71" y2="816.6" stroke="#262626" stroke-width="0.85"/><line x1="338.71" y1="814.9" x2="338.9" y2="814.9" stroke="#262626" stroke-width="0.85"/><line x1="338.71" y1="816.6" x2="338.9" y2="816.6" stroke="#262626" stroke-width="0.85"/><line x1="338.67" y1="813.2" x2="338.67" y2="815.75" stroke="#262626" stroke-width="0.85"/><line x1="338.67" y1="813.2" x2="338.9" y2="813.2" stroke="#262626" stroke-width="0.85"/><line x1="338.67" y1="815.75" x2="338.71" y2="815.75" stroke="#262626" stroke-width="0.85"/><line x1="338.44" y1="810.65" x2="338.44" y2="814.47" stroke="#262626" stroke-width="0.85"/><line x1="338.44" y1="810.65" x2="338.62" y2="810.65" stroke="#262626" stroke-width="0.85"/><line x1="338.44" y1="814.47" x2="338.67" y2="814.47" stroke="#262626" stroke-width="0.85"/><line x1="338.7" y1="818.3" x2="338.7" y2="820.01" stroke="#262626" stroke-width="0.85"/><line x1="338.7" y1="818.3" x2="338.9" y2="818.3" stroke="#262626" stroke-width="0.85"/><line x1="338.7" y1="820.01" x2="338.9" y2="820.01" stroke="#262626" stroke-width="0.85"/><line x1="338.63" y1="821.71" x2="338.63" y2="823.41" stroke="#262626" stroke-width="0.85"/><line x1="338.63" y1="821.71" x2="338.9" y2="821.71" stroke="#262626" stroke-width="0.85"/><line x1="338.63" y1="823.41" x2="338.9" y2="823.41" stroke="#262626" stroke-width="0.85"/><line x1="338.47" y1="819.15" x2="338.47" y2="822.56" stroke="#262626" stroke-width="0.85"/><line x1="338.47" y1="819.15" x2="338.7" y2="819.15" stroke="#262626" stroke-width="0.85"/><line x1="338.47" y1="822.56" x2="338.63" y2="822.56" stroke="#262626" stroke-width="0.85"/><line x1="337.81" y1="812.56" x2="337.81" y2="820.86" stroke="#262626" stroke-width="0.85"/><line x1="337.81" y1="812.56" x2="338.44" y2="812.56" stroke="#262626" stroke-width="0.85"/><line x1="337.81" y1="820.86" x2="338.47" y2="820.86" stroke="#262626" stroke-width="0.85"/><line x1="338.57" y1="826.81" x2="338.57" y2="828.51" stroke="#262626" stroke-width="0.85"/><line x1="338.57" y1="826.81" x2="338.9" y2="826.81" stroke="#262626" stroke-width="0.85"/><line x1="338.57" y1="828.51" x2="338.9" y2="828.51" stroke="#262626" stroke-width="0.85"/><line x1="337.69" y1="825.11" x2="337.69" y2="827.66" stroke="#262626" stroke-width="0.85"/><line x1="337.69" y1="825.11" x2="338.9" y2="825.11" stroke="#262626" stroke-width="0.85"/><line x1="337.69" y1="827.66" x2="338.57" y2="827.66" stroke="#262626" stroke-width="0.85"/><line x1="334.96" y1="816.71" x2="334.96" y2="826.39" stroke="#262626" stroke-width="0.85"/><line x1="334.96" y1="816.71" x2="337.81" y2="816.71" stroke="#262626" stroke-width="0.85"/><line x1="334.96" y1="826.39" x2="337.69" y2="826.39" stroke="#262626" stroke-width="0.85"/><line x1="333" y1="804.66" x2="333" y2="821.55" stroke="#262626" stroke-width="0.85"/><line x1="333" y1="804.66" x2="334.19" y2="804.66" stroke="#262626" stroke-width="0.85"/><line x1="333" y1="821.55" x2="334.96" y2="821.55" stroke="#262626" stroke-width="0.85"/><line x1="335.14" y1="830.22" x2="335.14" y2="831.92" stroke="#262626" stroke-width="0.85"/><line x1="335.14" y1="830.22" x2="338.9" y2="830.22" stroke="#262626" stroke-width="0.85"/><line x1="335.14" y1="831.92" x2="338.9" y2="831.92" stroke="#262626" stroke-width="0.85"/><line x1="337.25" y1="833.62" x2="337.25" y2="835.32" stroke="#262626" stroke-width="0.85"/><line x1="337.25" y1="833.62" x2="338.9" y2="833.62" stroke="#262626" stroke-width="0.85"/><line x1="337.25" y1="835.32" x2="338.9" y2="835.32" stroke="#262626" stroke-width="0.85"/><line x1="335.64" y1="834.47" x2="335.64" y2="837.02" stroke="#262626" stroke-width="0.85"/><line x1="335.64" y1="834.47" x2="337.25" y2="834.47" stroke="#262626" stroke-width="0.85"/><line x1="335.64" y1="837.02" x2="338.9" y2="837.02" stroke="#262626" stroke-width="0.85"/><line x1="333.5" y1="831.07" x2="333.5" y2="835.75" stroke="#262626" stroke-width="0.85"/><line x1="333.5" y1="831.07" x2="335.14" y2="831.07" stroke="#262626" stroke-width="0.85"/><line x1="333.5" y1="835.75" x2="335.64" y2="835.75" stroke="#262626" stroke-width="0.85"/><line x1="330.5" y1="813.11" x2="330.5" y2="833.41" stroke="#3a3a3a" stroke-width="0.9"/><line x1="330.5" y1="813.11" x2="333" y2="813.11" stroke="#3a3a3a" stroke-width="0.9"/><line x1="330.5" y1="833.41" x2="333.5" y2="833.41" stroke="#3a3a3a" stroke-width="0.9"/><line x1="338.77" y1="838.72" x2="338.77" y2="840.43" stroke="#262626" stroke-width="0.85"/><line x1="338.77" y1="838.72" x2="338.9" y2="838.72" stroke="#262626" stroke-width="0.85"/><line x1="338.77" y1="840.43" x2="338.9" y2="840.43" stroke="#262626" stroke-width="0.85"/><line x1="338.65" y1="839.58" x2="338.65" y2="842.13" stroke="#262626" stroke-width="0.85"/><line x1="338.65" y1="839.58" x2="338.77" y2="839.58" stroke="#262626" stroke-width="0.85"/><line x1="338.65" y1="842.13" x2="338.9" y2="842.13" stroke="#262626" stroke-width="0.85"/><line x1="338.57" y1="840.85" x2="338.57" y2="843.83" stroke="#262626" stroke-width="0.85"/><line x1="338.57" y1="840.85" x2="338.65" y2="840.85" stroke="#262626" stroke-width="0.85"/><line x1="338.57" y1="843.83" x2="338.9" y2="843.83" stroke="#262626" stroke-width="0.85"/><line x1="338.52" y1="845.53" x2="338.52" y2="847.23" stroke="#262626" stroke-width="0.85"/><line x1="338.52" y1="845.53" x2="338.9" y2="845.53" stroke="#262626" stroke-width="0.85"/><line x1="338.52" y1="847.23" x2="338.9" y2="847.23" stroke="#262626" stroke-width="0.85"/><line x1="338.42" y1="842.34" x2="338.42" y2="846.38" stroke="#262626" stroke-width="0.85"/><line x1="338.42" y1="842.34" x2="338.57" y2="842.34" stroke="#262626" stroke-width="0.85"/><line x1="338.42" y1="846.38" x2="338.52" y2="846.38" stroke="#262626" stroke-width="0.85"/><line x1="337.58" y1="844.36" x2="337.58" y2="848.94" stroke="#262626" stroke-width="0.85"/><line x1="337.58" y1="844.36" x2="338.42" y2="844.36" stroke="#262626" stroke-width="0.85"/><line x1="337.58" y1="848.94" x2="338.9" y2="848.94" stroke="#262626" stroke-width="0.85"/><line x1="338.81" y1="852.34" x2="338.81" y2="854.04" stroke="#262626" stroke-width="0.85"/><line x1="338.81" y1="852.34" x2="338.9" y2="852.34" stroke="#262626" stroke-width="0.85"/><line x1="338.81" y1="854.04" x2="338.9" y2="854.04" stroke="#262626" stroke-width="0.85"/><line x1="338.73" y1="855.74" x2="338.73" y2="857.44" stroke="#262626" stroke-width="0.85"/><line x1="338.73" y1="855.74" x2="338.9" y2="855.74" stroke="#262626" stroke-width="0.85"/><line x1="338.73" y1="857.44" x2="338.9" y2="857.44" stroke="#262626" stroke-width="0.85"/><line x1="338.57" y1="853.19" x2="338.57" y2="856.59" stroke="#262626" stroke-width="0.85"/><line x1="338.57" y1="853.19" x2="338.81" y2="853.19" stroke="#262626" stroke-width="0.85"/><line x1="338.57" y1="856.59" x2="338.73" y2="856.59" stroke="#262626" stroke-width="0.85"/><line x1="338.02" y1="850.64" x2="338.02" y2="854.89" stroke="#262626" stroke-width="0.85"/><line x1="338.02" y1="850.64" x2="338.9" y2="850.64" stroke="#262626" stroke-width="0.85"/><line x1="338.02" y1="854.89" x2="338.57" y2="854.89" stroke="#262626" stroke-width="0.85"/><line x1="336.84" y1="846.65" x2="336.84" y2="852.76" stroke="#262626" stroke-width="0.85"/><line x1="336.84" y1="846.65" x2="337.58" y2="846.65" stroke="#262626" stroke-width="0.85"/><line x1="336.84" y1="852.76" x2="338.02" y2="852.76" stroke="#262626" stroke-width="0.85"/><line x1="337.28" y1="859.15" x2="337.28" y2="860.85" stroke="#262626" stroke-width="0.85"/><line x1="337.28" y1="859.15" x2="338.9" y2="859.15" stroke="#262626" stroke-width="0.85"/><line x1="337.28" y1="860.85" x2="338.9" y2="860.85" stroke="#262626" stroke-width="0.85"/><line x1="338.77" y1="864.25" x2="338.77" y2="865.95" stroke="#262626" stroke-width="0.85"/><line x1="338.77" y1="864.25" x2="338.9" y2="864.25" stroke="#262626" stroke-width="0.85"/><line x1="338.77" y1="865.95" x2="338.9" y2="865.95" stroke="#262626" stroke-width="0.85"/><line x1="338.62" y1="862.55" x2="338.62" y2="865.1" stroke="#262626" stroke-width="0.85"/><line x1="338.62" y1="862.55" x2="338.9" y2="862.55" stroke="#262626" stroke-width="0.85"/><line x1="338.62" y1="865.1" x2="338.77" y2="865.1" stroke="#262626" stroke-width="0.85"/><line x1="337.96" y1="863.83" x2="337.96" y2="867.65" stroke="#262626" stroke-width="0.85"/><line x1="337.96" y1="863.83" x2="338.62" y2="863.83" stroke="#262626" stroke-width="0.85"/><line x1="337.96" y1="867.65" x2="338.9" y2="867.65" stroke="#262626" stroke-width="0.85"/><line x1="337.92" y1="869.36" x2="337.92" y2="871.06" stroke="#262626" stroke-width="0.85"/><line x1="337.92" y1="869.36" x2="338.9" y2="869.36" stroke="#262626" stroke-width="0.85"/><line x1="337.92" y1="871.06" x2="338.9" y2="871.06" stroke="#262626" stroke-width="0.85"/><line x1="337.41" y1="865.74" x2="337.41" y2="870.21" stroke="#262626" stroke-width="0.85"/><line x1="337.41" y1="865.74" x2="337.96" y2="865.74" stroke="#262626" stroke-width="0.85"/><line x1="337.41" y1="870.21" x2="337.92" y2="870.21" stroke="#262626" stroke-width="0.85"/><line x1="336.67" y1="860" x2="336.67" y2="867.97" stroke="#262626" stroke-width="0.85"/><line x1="336.67" y1="860" x2="337.28" y2="860" stroke="#262626" stroke-width="0.85"/><line x1="336.67" y1="867.97" x2="337.41" y2="867.97" stroke="#262626" stroke-width="0.85"/><line x1="338.73" y1="876.16" x2="338.73" y2="877.86" stroke="#262626" stroke-width="0.85"/><line x1="338.73" y1="876.16" x2="338.9" y2="876.16" stroke="#262626" stroke-width="0.85"/><line x1="338.73" y1="877.86" x2="338.9" y2="877.86" stroke="#262626" stroke-width="0.85"/><line x1="338.62" y1="874.46" x2="338.62" y2="877.01" stroke="#262626" stroke-width="0.85"/><line x1="338.62" y1="874.46" x2="338.9" y2="874.46" stroke="#262626" stroke-width="0.85"/><line x1="338.62" y1="877.01" x2="338.73" y2="877.01" stroke="#262626" stroke-width="0.85"/><line x1="338.19" y1="872.76" x2="338.19" y2="875.74" stroke="#262626" stroke-width="0.85"/><line x1="338.19" y1="872.76" x2="338.9" y2="872.76" stroke="#262626" stroke-width="0.85"/><line x1="338.19" y1="875.74" x2="338.62" y2="875.74" stroke="#262626" stroke-width="0.85"/><line x1="337.66" y1="879.57" x2="337.66" y2="881.27" stroke="#262626" stroke-width="0.85"/><line x1="337.66" y1="879.57" x2="338.9" y2="879.57" stroke="#262626" stroke-width="0.85"/><line x1="337.66" y1="881.27" x2="338.9" y2="881.27" stroke="#262626" stroke-width="0.85"/><line x1="336.68" y1="874.25" x2="336.68" y2="880.42" stroke="#262626" stroke-width="0.85"/><line x1="336.68" y1="874.25" x2="338.19" y2="874.25" stroke="#262626" stroke-width="0.85"/><line x1="336.68" y1="880.42" x2="337.66" y2="880.42" stroke="#262626" stroke-width="0.85"/><line x1="335.8" y1="863.98" x2="335.8" y2="877.33" stroke="#262626" stroke-width="0.85"/><line x1="335.8" y1="863.98" x2="336.67" y2="863.98" stroke="#262626" stroke-width="0.85"/><line x1="335.8" y1="877.33" x2="336.68" y2="877.33" stroke="#262626" stroke-width="0.85"/><line x1="334" y1="849.71" x2="334" y2="870.66" stroke="#262626" stroke-width="0.85"/><line x1="334" y1="849.71" x2="336.84" y2="849.71" stroke="#262626" stroke-width="0.85"/><line x1="334" y1="870.66" x2="335.8" y2="870.66" stroke="#262626" stroke-width="0.85"/><line x1="337.93" y1="882.97" x2="337.93" y2="884.67" stroke="#262626" stroke-width="0.85"/><line x1="337.93" y1="882.97" x2="338.9" y2="882.97" stroke="#262626" stroke-width="0.85"/><line x1="337.93" y1="884.67" x2="338.9" y2="884.67" stroke="#262626" stroke-width="0.85"/><line x1="338.44" y1="886.37" x2="338.44" y2="888.08" stroke="#262626" stroke-width="0.85"/><line x1="338.44" y1="886.37" x2="338.9" y2="886.37" stroke="#262626" stroke-width="0.85"/><line x1="338.44" y1="888.08" x2="338.9" y2="888.08" stroke="#262626" stroke-width="0.85"/><line x1="338.37" y1="889.78" x2="338.37" y2="891.48" stroke="#262626" stroke-width="0.85"/><line x1="338.37" y1="889.78" x2="338.9" y2="889.78" stroke="#262626" stroke-width="0.85"/><line x1="338.37" y1="891.48" x2="338.9" y2="891.48" stroke="#262626" stroke-width="0.85"/><line x1="337.95" y1="887.22" x2="337.95" y2="890.63" stroke="#262626" stroke-width="0.85"/><line x1="337.95" y1="887.22" x2="338.44" y2="887.22" stroke="#262626" stroke-width="0.85"/><line x1="337.95" y1="890.63" x2="338.37" y2="890.63" stroke="#262626" stroke-width="0.85"/><line x1="337.6" y1="883.82" x2="337.6" y2="888.93" stroke="#262626" stroke-width="0.85"/><line x1="337.6" y1="883.82" x2="337.93" y2="883.82" stroke="#262626" stroke-width="0.85"/><line x1="337.6" y1="888.93" x2="337.95" y2="888.93" stroke="#262626" stroke-width="0.85"/><line x1="338.84" y1="896.58" x2="338.84" y2="898.29" stroke="#262626" stroke-width="0.85"/><line x1="338.84" y1="896.58" x2="338.9" y2="896.58" stroke="#262626" stroke-width="0.85"/><line x1="338.84" y1="898.29" x2="338.9" y2="898.29" stroke="#262626" stroke-width="0.85"/><line x1="338.82" y1="894.88" x2="338.82" y2="897.44" stroke="#262626" stroke-width="0.85"/><line x1="338.82" y1="894.88" x2="338.9" y2="894.88" stroke="#262626" stroke-width="0.85"/><line x1="338.82" y1="897.44" x2="338.84" y2="897.44" stroke="#262626" stroke-width="0.85"/><line x1="338.71" y1="893.18" x2="338.71" y2="896.16" stroke="#262626" stroke-width="0.85"/><line x1="338.71" y1="893.18" x2="338.9" y2="893.18" stroke="#262626" stroke-width="0.85"/><line x1="338.71" y1="896.16" x2="338.82" y2="896.16" stroke="#262626" stroke-width="0.85"/><line x1="338.34" y1="894.67" x2="338.34" y2="899.99" stroke="#262626" stroke-width="0.85"/><line x1="338.34" y1="894.67" x2="338.71" y2="894.67" stroke="#262626" stroke-width="0.85"/><line x1="338.34" y1="899.99" x2="338.9" y2="899.99" stroke="#262626" stroke-width="0.85"/><line x1="338.12" y1="897.33" x2="338.12" y2="901.69" stroke="#262626" stroke-width="0.85"/><line x1="338.12" y1="897.33" x2="338.34" y2="897.33" stroke="#262626" stroke-width="0.85"/><line x1="338.12" y1="901.69" x2="338.9" y2="901.69" stroke="#262626" stroke-width="0.85"/><line x1="336.9" y1="886.37" x2="336.9" y2="899.51" stroke="#262626" stroke-width="0.85"/><line x1="336.9" y1="886.37" x2="337.6" y2="886.37" stroke="#262626" stroke-width="0.85"/><line x1="336.9" y1="899.51" x2="338.12" y2="899.51" stroke="#262626" stroke-width="0.85"/><line x1="338.23" y1="905.09" x2="338.23" y2="906.79" stroke="#262626" stroke-width="0.85"/><line x1="338.23" y1="905.09" x2="338.9" y2="905.09" stroke="#262626" stroke-width="0.85"/><line x1="338.23" y1="906.79" x2="338.9" y2="906.79" stroke="#262626" stroke-width="0.85"/><line x1="337.07" y1="903.39" x2="337.07" y2="905.94" stroke="#262626" stroke-width="0.85"/><line x1="337.07" y1="903.39" x2="338.9" y2="903.39" stroke="#262626" stroke-width="0.85"/><line x1="337.07" y1="905.94" x2="338.23" y2="905.94" stroke="#262626" stroke-width="0.85"/><line x1="334.5" y1="892.94" x2="334.5" y2="904.67" stroke="#262626" stroke-width="0.85"/><line x1="334.5" y1="892.94" x2="336.9" y2="892.94" stroke="#262626" stroke-width="0.85"/><line x1="334.5" y1="904.67" x2="337.07" y2="904.67" stroke="#262626" stroke-width="0.85"/><line x1="332.3" y1="860.18" x2="332.3" y2="898.8" stroke="#3a3a3a" stroke-width="0.9"/><line x1="332.3" y1="860.18" x2="334" y2="860.18" stroke="#3a3a3a" stroke-width="0.9"/><line x1="332.3" y1="898.8" x2="334.5" y2="898.8" stroke="#3a3a3a" stroke-width="0.9"/><line x1="338.43" y1="908.5" x2="338.43" y2="910.2" stroke="#262626" stroke-width="0.85"/><line x1="338.43" y1="908.5" x2="338.9" y2="908.5" stroke="#262626" stroke-width="0.85"/><line x1="338.43" y1="910.2" x2="338.9" y2="910.2" stroke="#262626" stroke-width="0.85"/><line x1="338.43" y1="911.9" x2="338.43" y2="913.6" stroke="#262626" stroke-width="0.85"/><line x1="338.43" y1="911.9" x2="338.9" y2="911.9" stroke="#262626" stroke-width="0.85"/><line x1="338.43" y1="913.6" x2="338.9" y2="913.6" stroke="#262626" stroke-width="0.85"/><line x1="337.75" y1="909.35" x2="337.75" y2="912.75" stroke="#262626" stroke-width="0.85"/><line x1="337.75" y1="909.35" x2="338.43" y2="909.35" stroke="#262626" stroke-width="0.85"/><line x1="337.75" y1="912.75" x2="338.43" y2="912.75" stroke="#262626" stroke-width="0.85"/><line x1="338.5" y1="915.3" x2="338.5" y2="917.01" stroke="#262626" stroke-width="0.85"/><line x1="338.5" y1="915.3" x2="338.9" y2="915.3" stroke="#262626" stroke-width="0.85"/><line x1="338.5" y1="917.01" x2="338.9" y2="917.01" stroke="#262626" stroke-width="0.85"/><line x1="337.51" y1="916.15" x2="337.51" y2="918.71" stroke="#262626" stroke-width="0.85"/><line x1="337.51" y1="916.15" x2="338.5" y2="916.15" stroke="#262626" stroke-width="0.85"/><line x1="337.51" y1="918.71" x2="338.9" y2="918.71" stroke="#262626" stroke-width="0.85"/><line x1="334.5" y1="911.05" x2="334.5" y2="917.43" stroke="#262626" stroke-width="0.85"/><line x1="334.5" y1="911.05" x2="337.75" y2="911.05" stroke="#262626" stroke-width="0.85"/><line x1="334.5" y1="917.43" x2="337.51" y2="917.43" stroke="#262626" stroke-width="0.85"/><line x1="338.62" y1="923.81" x2="338.62" y2="925.51" stroke="#262626" stroke-width="0.85"/><line x1="338.62" y1="923.81" x2="338.9" y2="923.81" stroke="#262626" stroke-width="0.85"/><line x1="338.62" y1="925.51" x2="338.9" y2="925.51" stroke="#262626" stroke-width="0.85"/><line x1="338.48" y1="922.11" x2="338.48" y2="924.66" stroke="#262626" stroke-width="0.85"/><line x1="338.48" y1="922.11" x2="338.9" y2="922.11" stroke="#262626" stroke-width="0.85"/><line x1="338.48" y1="924.66" x2="338.62" y2="924.66" stroke="#262626" stroke-width="0.85"/><line x1="338.17" y1="923.39" x2="338.17" y2="927.22" stroke="#262626" stroke-width="0.85"/><line x1="338.17" y1="923.39" x2="338.48" y2="923.39" stroke="#262626" stroke-width="0.85"/><line x1="338.17" y1="927.22" x2="338.9" y2="927.22" stroke="#262626" stroke-width="0.85"/><line x1="337.82" y1="920.41" x2="337.82" y2="925.3" stroke="#262626" stroke-width="0.85"/><line x1="337.82" y1="920.41" x2="338.9" y2="920.41" stroke="#262626" stroke-width="0.85"/><line x1="337.82" y1="925.3" x2="338.17" y2="925.3" stroke="#262626" stroke-width="0.85"/><line x1="336.44" y1="922.86" x2="336.44" y2="928.92" stroke="#262626" stroke-width="0.85"/><line x1="336.44" y1="922.86" x2="337.82" y2="922.86" stroke="#262626" stroke-width="0.85"/><line x1="336.44" y1="928.92" x2="338.9" y2="928.92" stroke="#262626" stroke-width="0.85"/><line x1="338.87" y1="934.02" x2="338.87" y2="935.72" stroke="#262626" stroke-width="0.85"/><line x1="338.87" y1="934.02" x2="338.9" y2="934.02" stroke="#262626" stroke-width="0.85"/><line x1="338.87" y1="935.72" x2="338.9" y2="935.72" stroke="#262626" stroke-width="0.85"/><line x1="338.79" y1="934.87" x2="338.79" y2="937.43" stroke="#262626" stroke-width="0.85"/><line x1="338.79" y1="934.87" x2="338.87" y2="934.87" stroke="#262626" stroke-width="0.85"/><line x1="338.79" y1="937.43" x2="338.9" y2="937.43" stroke="#262626" stroke-width="0.85"/><line x1="338.65" y1="932.32" x2="338.65" y2="936.15" stroke="#262626" stroke-width="0.85"/><line x1="338.65" y1="932.32" x2="338.9" y2="932.32" stroke="#262626" stroke-width="0.85"/><line x1="338.65" y1="936.15" x2="338.79" y2="936.15" stroke="#262626" stroke-width="0.85"/><line x1="338.72" y1="940.83" x2="338.72" y2="942.53" stroke="#262626" stroke-width="0.85"/><line x1="338.72" y1="940.83" x2="338.9" y2="940.83" stroke="#262626" stroke-width="0.85"/><line x1="338.72" y1="942.53" x2="338.9" y2="942.53" stroke="#262626" stroke-width="0.85"/><line x1="338.48" y1="939.13" x2="338.48" y2="941.68" stroke="#262626" stroke-width="0.85"/><line x1="338.48" y1="939.13" x2="338.9" y2="939.13" stroke="#262626" stroke-width="0.85"/><line x1="338.48" y1="941.68" x2="338.72" y2="941.68" stroke="#262626" stroke-width="0.85"/><line x1="338.27" y1="934.24" x2="338.27" y2="940.4" stroke="#262626" stroke-width="0.85"/><line x1="338.27" y1="934.24" x2="338.65" y2="934.24" stroke="#262626" stroke-width="0.85"/><line x1="338.27" y1="940.4" x2="338.48" y2="940.4" stroke="#262626" stroke-width="0.85"/><line x1="338.02" y1="930.62" x2="338.02" y2="937.32" stroke="#262626" stroke-width="0.85"/><line x1="338.02" y1="930.62" x2="338.9" y2="930.62" stroke="#262626" stroke-width="0.85"/><line x1="338.02" y1="937.32" x2="338.27" y2="937.32" stroke="#262626" stroke-width="0.85"/><line x1="335.69" y1="925.89" x2="335.69" y2="933.97" stroke="#262626" stroke-width="0.85"/><line x1="335.69" y1="925.89" x2="336.44" y2="925.89" stroke="#262626" stroke-width="0.85"/><line x1="335.69" y1="933.97" x2="338.02" y2="933.97" stroke="#262626" stroke-width="0.85"/><line x1="338.81" y1="944.23" x2="338.81" y2="945.94" stroke="#262626" stroke-width="0.85"/><line x1="338.81" y1="944.23" x2="338.9" y2="944.23" stroke="#262626" stroke-width="0.85"/><line x1="338.81" y1="945.94" x2="338.9" y2="945.94" stroke="#262626" stroke-width="0.85"/><line x1="338.61" y1="945.08" x2="338.61" y2="947.64" stroke="#262626" stroke-width="0.85"/><line x1="338.61" y1="945.08" x2="338.81" y2="945.08" stroke="#262626" stroke-width="0.85"/><line x1="338.61" y1="947.64" x2="338.9" y2="947.64" stroke="#262626" stroke-width="0.85"/><line x1="338.51" y1="946.36" x2="338.51" y2="949.34" stroke="#262626" stroke-width="0.85"/><line x1="338.51" y1="946.36" x2="338.61" y2="946.36" stroke="#262626" stroke-width="0.85"/><line x1="338.51" y1="949.34" x2="338.9" y2="949.34" stroke="#262626" stroke-width="0.85"/><line x1="338.66" y1="951.04" x2="338.66" y2="952.74" stroke="#262626" stroke-width="0.85"/><line x1="338.66" y1="951.04" x2="338.9" y2="951.04" stroke="#262626" stroke-width="0.85"/><line x1="338.66" y1="952.74" x2="338.9" y2="952.74" stroke="#262626" stroke-width="0.85"/><line x1="338.4" y1="951.89" x2="338.4" y2="954.44" stroke="#262626" stroke-width="0.85"/><line x1="338.4" y1="951.89" x2="338.66" y2="951.89" stroke="#262626" stroke-width="0.85"/><line x1="338.4" y1="954.44" x2="338.9" y2="954.44" stroke="#262626" stroke-width="0.85"/><line x1="337.91" y1="947.85" x2="337.91" y2="953.17" stroke="#262626" stroke-width="0.85"/><line x1="337.91" y1="947.85" x2="338.51" y2="947.85" stroke="#262626" stroke-width="0.85"/><line x1="337.91" y1="953.17" x2="338.4" y2="953.17" stroke="#262626" stroke-width="0.85"/><line x1="338.49" y1="956.15" x2="338.49" y2="957.85" stroke="#262626" stroke-width="0.85"/><line x1="338.49" y1="956.15" x2="338.9" y2="956.15" stroke="#262626" stroke-width="0.85"/><line x1="338.49" y1="957.85" x2="338.9" y2="957.85" stroke="#262626" stroke-width="0.85"/><line x1="338.04" y1="957" x2="338.04" y2="959.55" stroke="#262626" stroke-width="0.85"/><line x1="338.04" y1="957" x2="338.49" y2="957" stroke="#262626" stroke-width="0.85"/><line x1="338.04" y1="959.55" x2="338.9" y2="959.55" stroke="#262626" stroke-width="0.85"/><line x1="336.95" y1="950.51" x2="336.95" y2="958.27" stroke="#262626" stroke-width="0.85"/><line x1="336.95" y1="950.51" x2="337.91" y2="950.51" stroke="#262626" stroke-width="0.85"/><line x1="336.95" y1="958.27" x2="338.04" y2="958.27" stroke="#262626" stroke-width="0.85"/><line x1="334" y1="929.93" x2="334" y2="954.39" stroke="#262626" stroke-width="0.85"/><line x1="334" y1="929.93" x2="335.69" y2="929.93" stroke="#262626" stroke-width="0.85"/><line x1="334" y1="954.39" x2="336.95" y2="954.39" stroke="#262626" stroke-width="0.85"/><line x1="332.3" y1="914.24" x2="332.3" y2="942.16" stroke="#3a3a3a" stroke-width="0.9"/><line x1="332.3" y1="914.24" x2="334.5" y2="914.24" stroke="#3a3a3a" stroke-width="0.9"/><line x1="332.3" y1="942.16" x2="334" y2="942.16" stroke="#3a3a3a" stroke-width="0.9"/><line x1="329.3" y1="879.49" x2="329.3" y2="928.2" stroke="#3a3a3a" stroke-width="0.9"/><line x1="329.3" y1="879.49" x2="332.3" y2="879.49" stroke="#3a3a3a" stroke-width="0.9"/><line x1="329.3" y1="928.2" x2="332.3" y2="928.2" stroke="#3a3a3a" stroke-width="0.9"/><line x1="324.5" y1="823.26" x2="324.5" y2="903.85" stroke="#3a3a3a" stroke-width="0.9"/><line x1="324.5" y1="823.26" x2="330.5" y2="823.26" stroke="#3a3a3a" stroke-width="0.9"/><line x1="324.5" y1="903.85" x2="329.3" y2="903.85" stroke="#3a3a3a" stroke-width="0.9"/><line x1="320.4" y1="783.62" x2="320.4" y2="863.55" stroke="#3a3a3a" stroke-width="0.9"/><line x1="320.4" y1="783.62" x2="326.3" y2="783.62" stroke="#3a3a3a" stroke-width="0.9"/><line x1="320.4" y1="863.55" x2="324.5" y2="863.55" stroke="#3a3a3a" stroke-width="0.9"/><line x1="309.3" y1="695.3" x2="309.3" y2="823.59" stroke="#3a3a3a" stroke-width="0.9"/><line x1="309.3" y1="695.3" x2="324.2" y2="695.3" stroke="#3a3a3a" stroke-width="0.9"/><line x1="309.3" y1="823.59" x2="320.4" y2="823.59" stroke="#3a3a3a" stroke-width="0.9"/><line x1="297.2" y1="669.6" x2="297.2" y2="759.44" stroke="#3a3a3a" stroke-width="0.9"/><line x1="297.2" y1="669.6" x2="338.9" y2="669.6" stroke="#3a3a3a" stroke-width="0.9"/><line x1="297.2" y1="759.44" x2="309.3" y2="759.44" stroke="#3a3a3a" stroke-width="0.9"/></g>
<defs><linearGradient id="cb" x1="0" y1="0" x2="0" y2="1">
<stop offset="0.0000" stop-color="#d73027"/>
<stop offset="0.0417" stop-color="#e14c33"/>
<stop offset="0.0833" stop-color="#ea633f"/>
<stop offset="0.1250" stop-color="#f3784c"/>
<stop offset="0.1667" stop-color="#fc8d59"/>
<stop offset="0.2083" stop-color="#fea366"/>
<stop offset="0.2500" stop-color="#ffb774"/>
<stop offset="0.2917" stop-color="#ffcc82"/>
<stop offset="0.3333" stop-color="#fee090"/>
<stop offset="0.3750" stop-color="#ffe89c"/>
<stop offset="0.4167" stop-color="#ffefa7"/>
<stop offset="0.4583" stop-color="#fff7b3"/>
<stop offset="0.5000" stop-color="#ffffbf"/>
<stop offset="0.5417" stop-color="#f8fcce"/>
<stop offset="0.5833" stop-color="#f1f9dc"/>
<stop offset="0.6250" stop-color="#e9f6ea"/>
<stop offset="0.6667" stop-color="#e0f3f8"/>
<stop offset="0.7083" stop-color="#cde6f1"/>
<stop offset="0.7500" stop-color="#b9d9e9"/>
<stop offset="0.7917" stop-color="#a5cce2"/>
<stop offset="0.8333" stop-color="#91bfdb"/>
<stop offset="0.8750" stop-color="#7facd1"/>
<stop offset="0.9167" stop-color="#6d99c8"/>
<stop offset="0.9583" stop-color="#5a87be"/>
<stop offset="1.0000" stop-color="#4575b4"/>
</linearGradient></defs>
<rect x="435" y="669.1" width="7.5" height="120.2" fill="url(#cb)"/>
<text x="445.6" y="692.1" font-size="8.5" fill="#000" stroke="#000" stroke-width="0.22">4</text>
<text x="445.6" y="712.2" font-size="8.5" fill="#000" stroke="#000" stroke-width="0.22">2</text>
<text x="445.6" y="732.3" font-size="8.5" fill="#000" stroke="#000" stroke-width="0.22">0</text>
<text x="445.6" y="752.4" font-size="8.5" fill="#000" stroke="#000" stroke-width="0.22">-2</text>
<text x="445.6" y="772.5" font-size="8.5" fill="#000" stroke="#000" stroke-width="0.22">-4</text>
<text x="443.6" y="672.2" font-size="9.3" fill="#000" stroke="#000" stroke-width="0.22">&gt; 6</text>
<text x="445.8" y="793.5" font-size="9.3" fill="#000" stroke="#000" stroke-width="0.22">&lt; -6</text>
<text x="435.9" y="819.8" font-size="8" font-weight="bold" fill="#000">FoldChange</text>
<rect x="435.5" y="823.1" width="11.4" height="11.1" fill="#00D4DC"/>
<rect x="435.5" y="834.2" width="11.4" height="11.3" fill="#FC8D86"/>
<text x="449.5" y="831.4" font-size="7.8" fill="#000" stroke="#000" stroke-width="0.22">higher in chr11/chr17</text>
<text x="449.5" y="843.1" font-size="7.8" fill="#000" stroke="#000" stroke-width="0.22">higher in Col</text>
<text transform="translate(341.5,964) rotate(90)" font-size="8" font-weight="bold" fill="#000">FoldChange</text>
<text transform="translate(368,964) rotate(90)" font-size="8" fill="#000" stroke="#000" stroke-width="0.22">Col</text>
<text transform="translate(407.5,963.5) rotate(90)" font-size="8" fill="#000" stroke="#000" stroke-width="0.22">chr11</text>
</svg></body></html>
